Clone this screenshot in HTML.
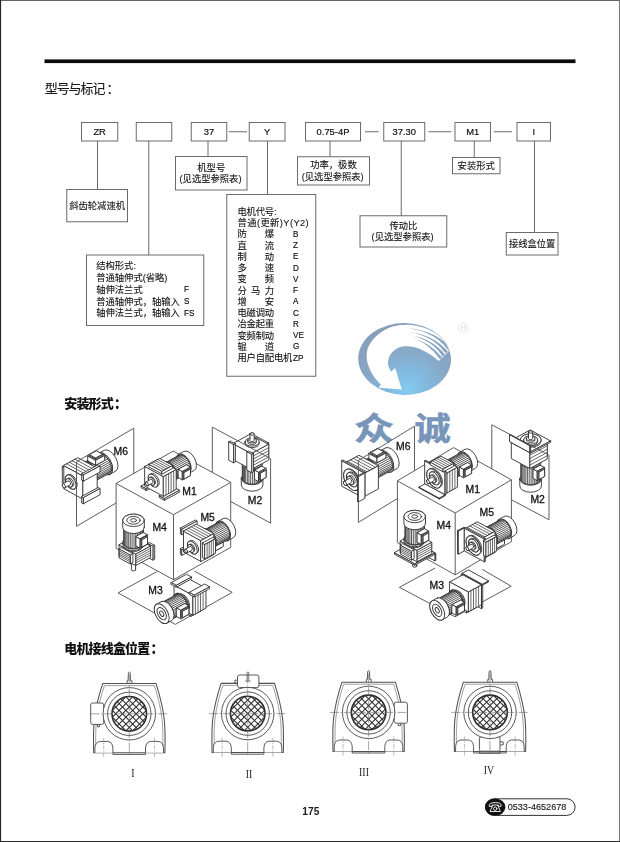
<!DOCTYPE html>
<html lang="zh-CN">
<head>
<meta charset="utf-8">
<title>型号与标记 - 175</title>
<style>
html,body{margin:0;padding:0;background:#fff;}
body{width:620px;height:842px;position:relative;overflow:hidden;font-family:"Liberation Sans",sans-serif;}
#art{position:absolute;left:0;top:0;width:620px;height:842px;display:block;}
#txt{position:absolute;left:0;top:0;width:620px;height:842px;will-change:transform;}
.l{position:absolute;white-space:nowrap;display:block;}
.t{position:absolute;white-space:nowrap;display:block;color:#111;-webkit-text-stroke:0.1px #111;font-family:"Liberation Sans","Noto Sans CJK SC",sans-serif;}
.h1{color:#1a1a1a;-webkit-text-stroke:0.15px #1a1a1a;letter-spacing:-1.1px;}
.h2{color:#111;font-weight:900;-webkit-text-stroke:0;letter-spacing:-0.84px;}
</style>
</head>
<body>
<svg id="art" width="620" height="842" viewBox="0 0 620 842">
<defs>
<radialGradient id="lg" gradientUnits="userSpaceOnUse" cx="408" cy="388" r="62" fx="408" fy="390">
<stop offset="0" stop-color="#84caf1"/><stop offset="0.3" stop-color="#82badf"/><stop offset="0.62" stop-color="#88a9c8"/><stop offset="1" stop-color="#879fbc"/>
</radialGradient>
<clipPath id="lgc"><ellipse cx="404.6" cy="359.0" rx="46.0" ry="35.5" transform="rotate(1.5 404.6 359.0)"/></clipPath>
<clipPath id="xh"><circle r="16.9"/></clipPath>
</defs>
<rect x="0" y="0" width="620" height="1" fill="#666"/>
<rect x="0" y="0" width="1.1" height="842" fill="#262626"/>
<rect x="619" y="0" width="1" height="842" fill="#777"/>
<rect x="0" y="841" width="620" height="1" fill="#2a2a2a"/>
<rect x="44.5" y="59.4" width="531" height="3.7" fill="#0a0a0a"/>
<rect x="81.5" y="122.5" width="36.25" height="18.50" fill="none" stroke="#6a6a6a" stroke-width="1"/>
<rect x="136.25" y="122.5" width="35.50" height="18.50" fill="none" stroke="#6a6a6a" stroke-width="1"/>
<rect x="191.25" y="122.5" width="35.50" height="18.50" fill="none" stroke="#6a6a6a" stroke-width="1"/>
<rect x="249.25" y="122.5" width="35.75" height="18.50" fill="none" stroke="#6a6a6a" stroke-width="1"/>
<rect x="305.5" y="122.5" width="55.00" height="18.50" fill="none" stroke="#6a6a6a" stroke-width="1"/>
<rect x="383.75" y="122.5" width="41.00" height="18.50" fill="none" stroke="#6a6a6a" stroke-width="1"/>
<rect x="455.0" y="122.5" width="35.50" height="18.50" fill="none" stroke="#6a6a6a" stroke-width="1"/>
<rect x="517.0" y="122.5" width="33.50" height="18.50" fill="none" stroke="#6a6a6a" stroke-width="1"/>
<line x1="228.75" y1="131.75" x2="247" y2="131.75" stroke="#6a6a6a" stroke-width="1"/>
<line x1="365" y1="131.75" x2="378.75" y2="131.75" stroke="#6a6a6a" stroke-width="1"/>
<line x1="428.5" y1="131.75" x2="451.25" y2="131.75" stroke="#6a6a6a" stroke-width="1"/>
<line x1="493.75" y1="131.75" x2="512" y2="131.75" stroke="#6a6a6a" stroke-width="1"/>
<line x1="97.5" y1="141.0" x2="97.5" y2="189.5" stroke="#6a6a6a" stroke-width="1"/>
<line x1="148.75" y1="141.0" x2="148.75" y2="255" stroke="#6a6a6a" stroke-width="1"/>
<line x1="208" y1="141.0" x2="208" y2="156.5" stroke="#6a6a6a" stroke-width="1"/>
<line x1="267.5" y1="141.0" x2="267.5" y2="194.5" stroke="#6a6a6a" stroke-width="1"/>
<line x1="330" y1="141.0" x2="330" y2="156.5" stroke="#6a6a6a" stroke-width="1"/>
<line x1="401.25" y1="141.0" x2="401.25" y2="215.75" stroke="#6a6a6a" stroke-width="1"/>
<line x1="474.25" y1="141.0" x2="474.25" y2="157.5" stroke="#6a6a6a" stroke-width="1"/>
<line x1="534.5" y1="141.0" x2="534.5" y2="232.5" stroke="#6a6a6a" stroke-width="1"/>
<rect x="66.75" y="189.5" width="60.75" height="32.25" fill="none" stroke="#6a6a6a" stroke-width="1"/>
<rect x="175.5" y="156.5" width="71.50" height="33.50" fill="none" stroke="#6a6a6a" stroke-width="1"/>
<rect x="297.5" y="156.75" width="72.00" height="28.25" fill="none" stroke="#6a6a6a" stroke-width="1"/>
<rect x="360" y="215.75" width="86.75" height="31.25" fill="none" stroke="#6a6a6a" stroke-width="1"/>
<rect x="452.5" y="157.5" width="47.50" height="16.25" fill="none" stroke="#6a6a6a" stroke-width="1"/>
<rect x="506.25" y="232.5" width="51.75" height="22.50" fill="none" stroke="#6a6a6a" stroke-width="1"/>
<rect x="86.5" y="255" width="117.25" height="70.50" fill="none" stroke="#6a6a6a" stroke-width="1"/>
<rect x="226.75" y="194.5" width="89.00" height="181.75" fill="none" stroke="#6a6a6a" stroke-width="1"/>
<rect x="485.5" y="798.8" width="89.6" height="16.6" rx="8.3" fill="#fff" stroke="#333" stroke-width="1"/>
<ellipse cx="495.2" cy="807.1" rx="10.2" ry="8.6" fill="#111"/>
<g fill="none" stroke="#fff" stroke-width="0.9" stroke-linecap="round" stroke-linejoin="round"><path d="M489.2 805.2 q0.3 -2.6 6 -2.6 q5.7 0 6 2.6 l-0.2 1.1 h-2.6 l-0.3 -1.3 h-5.8 l-0.3 1.3 h-2.6 z"/><path d="M492.6 805.6 l-2.6 5.9 h10.4 l-2.6 -5.9"/><circle cx="495.2" cy="808.7" r="1.7"/></g>
<ellipse cx="404.6" cy="359.0" rx="46.4" ry="35.9" transform="rotate(1.5 404.6 359.0)" fill="url(#lg)"/><g clip-path="url(#lgc)"><path d="M401.9 389.5 L378.7 387.8 L381 384.4 C375 379.5 369.5 371 367.3 362 C365.6 353 367.5 346.5 371.1 342.2 C374.5 337 380 332 388 328.2 C396 325 404 324.4 412 325.0 C428 326.6 443 335 451.5 348.6 L438.7 361.0 C434.5 357.0 428 352.4 419.5 348.7 C413 346 405 345.4 399 347.6 C393 350.3 389 355 388 361.5 C387.8 364 388.3 366 389.2 368 L391.1 371.7 L395.1 368.0 C396.4 371.5 398 377 399.6 382.7 Z" fill="#fff"/><path d="M408.2 328.3 Q436.2 330.6 450.7 348.8 L448.5 350.8 Q436.0 332.1 408.2 328.3 Z" fill="url(#lg)"/><path d="M409.4 332.0 Q434.0 335.0 447.9 351.6 L445.7 353.6 Q433.8 336.4 409.4 332.0 Z" fill="url(#lg)"/><path d="M411.8 335.6 Q431.4 338.6 445.0 354.4 L442.8 356.4 Q431.3 340.0 411.8 335.6 Z" fill="url(#lg)"/><path d="M414.2 339.0 Q428.9 341.9 442.1 357.2 L439.9 359.2 Q428.7 343.3 414.2 339.0 Z" fill="url(#lg)"/></g><circle cx="463.3" cy="327.8" r="4.8" fill="none" stroke="#dedede" stroke-width="0.8"/>
<text transform="translate(354 440.4) scale(1.25 1)" font-family="'Liberation Sans','Noto Sans CJK SC',sans-serif" font-size="32" font-weight="bold" fill="#7795b8" stroke="#7795b8" stroke-width="0.5">众</text>
<text transform="translate(414.6 440.4) scale(1.13 1)" font-family="'Liberation Sans','Noto Sans CJK SC',sans-serif" font-size="32" font-weight="bold" fill="#7795b8" stroke="#7795b8" stroke-width="0.5">诚</text>
<g transform="translate(129.3 713.8)" fill="none" stroke="#505050" stroke-width="0.95" stroke-linejoin="round"><path d="M-2.2 -30.2 V-33 H-1.2 L-0.9 -41 Q0 -42.4 0.9 -41 L1.2 -33 H2.6 V-30.2" fill="#fff"/><path d="M-26.6 -30.2 H26.8 C30 -20 33.4 -8 35 6 C35.8 14 36 24 35.6 39 H-35.6 C-36 24 -35.8 14 -35 6 C-33.4 -8 -30 -20 -26.6 -30.2 Z" fill="#fff" stroke-width="1.05"/><path d="M-24.8 -28.2 H25 C28 -19 31.3 -7 32.8 6 C33.6 14 33.8 24 33.4 39 M-33.4 39 C-33.8 24 -33.6 14 -32.8 6 C-31.3 -7 -28 -19 -24.8 -28.2" stroke-width="0.7" stroke="#777"/><path d="M-34.4 39 V34 Q-34 28 -29 27.6 H-21.5 Q-17 28 -16.4 34 V39" fill="#fff"/><path d="M34.2 39 V34 Q33.8 28 28.8 27.6 H21.3 Q16.8 28 16.2 34 V39" fill="#fff"/><path d="M-16.4 39 V40.6 H16.2 V39" /><path d="M-32 10.6 v2.4 h2.2 v-2.4"/><rect x="-38.6" y="-10.8" width="13" height="21.4" rx="2" fill="#fff"/><circle r="26.2" fill="#fff"/><circle r="21.7"/><circle r="17.3" stroke="#2e2e2e" stroke-width="1.6" fill="#fff"/><g clip-path="url(#xh)" stroke="#2e2e2e" stroke-width="1.05"><path d="M-53.94 -20 L-13.94 20 M-13.94 -20 L-53.94 20"/><path d="M-47.15 -20 L-7.15 20 M-7.15 -20 L-47.15 20"/><path d="M-40.36 -20 L-0.36 20 M-0.36 -20 L-40.36 20"/><path d="M-33.58 -20 L6.42 20 M6.42 -20 L-33.58 20"/><path d="M-26.79 -20 L13.21 20 M13.21 -20 L-26.79 20"/><path d="M-20.00 -20 L20.00 20 M20.00 -20 L-20.00 20"/><path d="M-13.21 -20 L26.79 20 M26.79 -20 L-13.21 20"/><path d="M-6.42 -20 L33.58 20 M33.58 -20 L-6.42 20"/><path d="M0.36 -20 L40.36 20 M40.36 -20 L0.36 20"/><path d="M7.15 -20 L47.15 20 M47.15 -20 L7.15 20"/><path d="M13.94 -20 L53.94 20 M53.94 -20 L13.94 20"/></g><path d="M0 -38.7 V41.7 M-38.7 0 H37.6" stroke="#666" stroke-width="0.6" stroke-dasharray="9 1.5 1.5 1.5"/><path d="M-25.6 24 V43.5 M25.2 24 V43.5" stroke="#777" stroke-width="0.5" stroke-dasharray="4 1.2 1.2 1.2"/></g>
<g transform="translate(247.7 713.6)" fill="none" stroke="#505050" stroke-width="0.95" stroke-linejoin="round"><path d="M-26.6 -30.2 H26.8 C30 -20 33.4 -8 35 6 C35.8 14 36 24 35.6 39 H-35.6 C-36 24 -35.8 14 -35 6 C-33.4 -8 -30 -20 -26.6 -30.2 Z" fill="#fff" stroke-width="1.05"/><path d="M-24.8 -28.2 H25 C28 -19 31.3 -7 32.8 6 C33.6 14 33.8 24 33.4 39 M-33.4 39 C-33.8 24 -33.6 14 -32.8 6 C-31.3 -7 -28 -19 -24.8 -28.2" stroke-width="0.7" stroke="#777"/><path d="M-34.4 39 V34 Q-34 28 -29 27.6 H-21.5 Q-17 28 -16.4 34 V39" fill="#fff"/><path d="M34.2 39 V34 Q33.8 28 28.8 27.6 H21.3 Q16.8 28 16.2 34 V39" fill="#fff"/><path d="M-16.4 39 V40.6 H16.2 V39" /><path d="M-10.2 -33.4 h-2.6 v2.8 h2.6"/><rect x="-10.2" y="-38.6" width="21.4" height="12.6" rx="2" fill="#fff"/><path d="M-0.8 -32.5 L-0.5 -41.5 H0.9 L1.2 -32.5 M-2.6 -32.5 H3" stroke-width="0.7"/><circle r="26.2" fill="#fff"/><circle r="21.7"/><circle r="17.3" stroke="#2e2e2e" stroke-width="1.6" fill="#fff"/><g clip-path="url(#xh)" stroke="#2e2e2e" stroke-width="1.05"><path d="M-53.94 -20 L-13.94 20 M-13.94 -20 L-53.94 20"/><path d="M-47.15 -20 L-7.15 20 M-7.15 -20 L-47.15 20"/><path d="M-40.36 -20 L-0.36 20 M-0.36 -20 L-40.36 20"/><path d="M-33.58 -20 L6.42 20 M6.42 -20 L-33.58 20"/><path d="M-26.79 -20 L13.21 20 M13.21 -20 L-26.79 20"/><path d="M-20.00 -20 L20.00 20 M20.00 -20 L-20.00 20"/><path d="M-13.21 -20 L26.79 20 M26.79 -20 L-13.21 20"/><path d="M-6.42 -20 L33.58 20 M33.58 -20 L-6.42 20"/><path d="M0.36 -20 L40.36 20 M40.36 -20 L0.36 20"/><path d="M7.15 -20 L47.15 20 M47.15 -20 L7.15 20"/><path d="M13.94 -20 L53.94 20 M53.94 -20 L13.94 20"/></g><path d="M0 -38.7 V41.7 M-38.7 0 H37.6" stroke="#666" stroke-width="0.6" stroke-dasharray="9 1.5 1.5 1.5"/><path d="M-25.6 24 V43.5 M25.2 24 V43.5" stroke="#777" stroke-width="0.5" stroke-dasharray="4 1.2 1.2 1.2"/></g>
<g transform="translate(368.6 712.4)" fill="none" stroke="#505050" stroke-width="0.95" stroke-linejoin="round"><path d="M-2.2 -30.2 V-33 H-1.2 L-0.9 -41 Q0 -42.4 0.9 -41 L1.2 -33 H2.6 V-30.2" fill="#fff"/><path d="M-26.6 -30.2 H26.8 C30 -20 33.4 -8 35 6 C35.8 14 36 24 35.6 39 H-35.6 C-36 24 -35.8 14 -35 6 C-33.4 -8 -30 -20 -26.6 -30.2 Z" fill="#fff" stroke-width="1.05"/><path d="M-24.8 -28.2 H25 C28 -19 31.3 -7 32.8 6 C33.6 14 33.8 24 33.4 39 M-33.4 39 C-33.8 24 -33.6 14 -32.8 6 C-31.3 -7 -28 -19 -24.8 -28.2" stroke-width="0.7" stroke="#777"/><path d="M-34.4 39 V34 Q-34 28 -29 27.6 H-21.5 Q-17 28 -16.4 34 V39" fill="#fff"/><path d="M34.2 39 V34 Q33.8 28 28.8 27.6 H21.3 Q16.8 28 16.2 34 V39" fill="#fff"/><path d="M-16.4 39 V40.6 H16.2 V39" /><path d="M32 10.8 v2.4 h-2.4 v-2.4"/><rect x="25.6" y="-10.2" width="13.2" height="21" rx="2" fill="#fff"/><circle r="26.2" fill="#fff"/><circle r="21.7"/><circle r="17.3" stroke="#2e2e2e" stroke-width="1.6" fill="#fff"/><g clip-path="url(#xh)" stroke="#2e2e2e" stroke-width="1.05"><path d="M-53.94 -20 L-13.94 20 M-13.94 -20 L-53.94 20"/><path d="M-47.15 -20 L-7.15 20 M-7.15 -20 L-47.15 20"/><path d="M-40.36 -20 L-0.36 20 M-0.36 -20 L-40.36 20"/><path d="M-33.58 -20 L6.42 20 M6.42 -20 L-33.58 20"/><path d="M-26.79 -20 L13.21 20 M13.21 -20 L-26.79 20"/><path d="M-20.00 -20 L20.00 20 M20.00 -20 L-20.00 20"/><path d="M-13.21 -20 L26.79 20 M26.79 -20 L-13.21 20"/><path d="M-6.42 -20 L33.58 20 M33.58 -20 L-6.42 20"/><path d="M0.36 -20 L40.36 20 M40.36 -20 L0.36 20"/><path d="M7.15 -20 L47.15 20 M47.15 -20 L7.15 20"/><path d="M13.94 -20 L53.94 20 M53.94 -20 L13.94 20"/></g><path d="M0 -38.7 V41.7 M-38.7 0 H37.6" stroke="#666" stroke-width="0.6" stroke-dasharray="9 1.5 1.5 1.5"/><path d="M-25.6 24 V43.5 M25.2 24 V43.5" stroke="#777" stroke-width="0.5" stroke-dasharray="4 1.2 1.2 1.2"/></g>
<g transform="translate(490.0 712.4)" fill="none" stroke="#505050" stroke-width="0.95" stroke-linejoin="round"><path d="M-2.2 -30.2 V-33 H-1.2 L-0.9 -41 Q0 -42.4 0.9 -41 L1.2 -33 H2.6 V-30.2" fill="#fff"/><path d="M-26.6 -30.2 H26.8 C30 -20 33.4 -8 35 6 C35.8 14 36 24 35.6 39 H-35.6 C-36 24 -35.8 14 -35 6 C-33.4 -8 -30 -20 -26.6 -30.2 Z" fill="#fff" stroke-width="1.05"/><path d="M-24.8 -28.2 H25 C28 -19 31.3 -7 32.8 6 C33.6 14 33.8 24 33.4 39 M-33.4 39 C-33.8 24 -33.6 14 -32.8 6 C-31.3 -7 -28 -19 -24.8 -28.2" stroke-width="0.7" stroke="#777"/><path d="M-34.4 39 V34 Q-34 28 -29 27.6 H-21.5 Q-17 28 -16.4 34 V39" fill="#fff"/><path d="M34.2 39 V34 Q33.8 28 28.8 27.6 H21.3 Q16.8 28 16.2 34 V39" fill="#fff"/><path d="M-16.4 39 V40.6 H16.2 V39" /><rect x="-10.6" y="24.4" width="20.6" height="14.4" rx="1.5" fill="#fff"/><path d="M10 29.5 h3.2 v3 h-3.2"/><path d="M-10.6 38.8 v2 h20.6 v-2"/><circle r="26.2" fill="#fff"/><circle r="21.7"/><circle r="17.3" stroke="#2e2e2e" stroke-width="1.6" fill="#fff"/><g clip-path="url(#xh)" stroke="#2e2e2e" stroke-width="1.05"><path d="M-53.94 -20 L-13.94 20 M-13.94 -20 L-53.94 20"/><path d="M-47.15 -20 L-7.15 20 M-7.15 -20 L-47.15 20"/><path d="M-40.36 -20 L-0.36 20 M-0.36 -20 L-40.36 20"/><path d="M-33.58 -20 L6.42 20 M6.42 -20 L-33.58 20"/><path d="M-26.79 -20 L13.21 20 M13.21 -20 L-26.79 20"/><path d="M-20.00 -20 L20.00 20 M20.00 -20 L-20.00 20"/><path d="M-13.21 -20 L26.79 20 M26.79 -20 L-13.21 20"/><path d="M-6.42 -20 L33.58 20 M33.58 -20 L-6.42 20"/><path d="M0.36 -20 L40.36 20 M40.36 -20 L0.36 20"/><path d="M7.15 -20 L47.15 20 M47.15 -20 L7.15 20"/><path d="M13.94 -20 L53.94 20 M53.94 -20 L13.94 20"/></g><path d="M0 -38.7 V41.7 M-38.7 0 H37.6" stroke="#666" stroke-width="0.6" stroke-dasharray="9 1.5 1.5 1.5"/><path d="M-25.6 24 V43.5 M25.2 24 V43.5" stroke="#777" stroke-width="0.5" stroke-dasharray="4 1.2 1.2 1.2"/></g>
<g fill="#fff" stroke="#303030" stroke-width="0.9" stroke-linejoin="round" stroke-linecap="round"><path d="M110.1 474.2 L115.9 471 A11.9 6.8 61.5 0 0 104.5 450.2 L98.7 453.3 A11.9 6.8 61.5 0 0 110.1 474.2Z" fill="#fff"/><ellipse cx="104.4" cy="463.8" rx="11.9" ry="6.8" transform="rotate(61.5 104.4 463.8)" fill="#fff"/><ellipse cx="104.4" cy="463.8" rx="7.4" ry="4.2" transform="rotate(61.5 104.4 463.8)" fill="none"/><ellipse cx="104.4" cy="463.8" rx="3.3" ry="1.9" transform="rotate(61.5 104.4 463.8)" fill="none"/><path d="M94.6 481.4 L109.5 473.2 A10.8 6.2 61.5 0 0 99.3 454.3 L84.3 462.4 A10.8 6.2 61.5 0 0 94.6 481.4Z" fill="#fff"/><path d="M89.4 463.1 L104.4 455 M88 462.5 L103 454.3 M86.6 462.2 L101.6 454 M85.3 462.2 L100.3 454.1 M96.3 479.6 L111.3 471.4 M96.9 478.3 L111.8 470.2 M97.1 476.9 L112.1 468.7 M97.1 475.3 L112.1 467.1 M96.9 473.5 L111.8 465.4 M96.3 471.7 L111.3 463.6 M95.6 469.9 L110.6 461.8 M94.6 468.2 L109.6 460.1 M93.5 466.6 L108.5 458.5 M92.2 465.2 L107.2 457.1 M90.8 464 L105.8 455.9" fill="none" stroke-width="0.81"/><ellipse cx="89.4" cy="471.9" rx="10.8" ry="6.2" transform="rotate(61.5 89.4 471.9)" fill="#fff"/><path d="M93.6 483.1 L95.1 482.3 A11.9 6.8 61.5 0 0 83.8 461.5 L82.3 462.3 A11.9 6.8 61.5 0 0 93.6 483.1Z" fill="#fff"/><ellipse cx="88" cy="472.7" rx="11.9" ry="6.8" transform="rotate(61.5 88 472.7)" fill="#fff"/><path d="M90.8 482.5 L92.7 481.4 A10 5.8 61.5 0 0 83.2 463.9 L81.3 465 A10 5.8 61.5 0 0 90.8 482.5Z" fill="#fff"/><ellipse cx="86" cy="473.7" rx="10" ry="5.8" transform="rotate(61.5 86 473.7)" fill="#fff"/><path d="M65.3 484.1 L65.3 468.1 L62.3 466.5 L62.3 482.5Z" fill="#fff"/><path d="M65.3 468.1 L76.9 461.8 L74 460.2 L62.3 466.5Z" fill="#fff"/><path d="M65.3 484.1 L76.9 477.8 L76.9 461.8 L65.3 468.1Z" fill="#fff"/><path d="M96 465.1 L96 460.1 L87.7 455.6 L87.7 460.6Z" fill="#fff"/><path d="M96 460.1 L104.7 455.4 L96.4 450.8 L87.7 455.6Z" fill="#fff"/><path d="M96 465.1 L104.7 460.4 L104.7 455.4 L96 460.1Z" fill="#fff"/><path d="M83.1 498.9 L83.1 475.8 L63.8 465.3 L63.8 488.4Z" fill="#fff"/><path d="M83.1 475.8 L97.2 468.2 L77.8 457.7 L63.8 465.3Z" fill="#fff"/><path d="M85.9 474.3 L66.6 463.8 M88.7 472.8 L69.4 462.3 M91.5 471.3 L72.2 460.8 M94.3 469.7 L75 459.2" fill="none" stroke-width="0.72"/><path d="M83.1 498.9 L97.2 491.3 L97.2 468.2 L83.1 475.8Z" fill="#fff"/><path d="M96 459 L96 457.9 L89.6 454.5 L89.6 455.6Z" fill="#fff"/><path d="M96 457.9 L102.8 454.3 L96.4 450.8 L89.6 454.5Z" fill="#fff"/><path d="M96 459 L102.8 455.4 L102.8 454.3 L96 457.9Z" fill="#fff"/><path d="M83.6 503.6 L83.6 497.5 L81.7 496.4 L81.7 502.6Z" fill="#fff"/><path d="M83.6 497.5 L100.1 488.5 L98.1 487.5 L81.7 496.4Z" fill="#fff"/><path d="M83.6 503.6 L100.1 494.7 L100.1 488.5 L83.6 497.5Z" fill="#fff"/><path d="M74.3 489 L75.7 488.2 A7.8 4.5 61.5 0 0 68.3 474.5 L66.8 475.3 A7.8 4.5 61.5 0 0 74.3 489Z" fill="#fff"/><ellipse cx="70.6" cy="482.1" rx="7.8" ry="4.5" transform="rotate(61.5 70.6 482.1)" fill="#fff"/><path d="M71.3 486.9 L72.8 486.2 A4.6 2.6 61.5 0 0 68.4 478.1 L66.9 478.9 A4.6 2.6 61.5 0 0 71.3 486.9Z" fill="#fff"/><ellipse cx="69.1" cy="482.9" rx="4.6" ry="2.6" transform="rotate(61.5 69.1 482.9)" fill="#fff"/><path d="M64.9 487.8 L70.2 484.9 A2.3 1.3 61.5 0 0 68 480.9 L62.7 483.8 A2.3 1.3 61.5 0 0 64.9 487.8Z" fill="#fff"/><ellipse cx="63.8" cy="485.8" rx="2.3" ry="1.3" transform="rotate(61.5 63.8 485.8)" fill="#fff"/><path d="M83.6 481 L83.6 474.8 L81.7 473.8 L81.7 479.9Z" fill="#fff"/><path d="M83.6 474.8 L100.1 465.9 L98.1 464.8 L81.7 473.8Z" fill="#fff"/><path d="M83.6 481 L100.1 472 L100.1 465.9 L83.6 474.8Z" fill="#fff"/></g><g fill="#fff" stroke="#303030" stroke-width="0.9" stroke-linejoin="round" stroke-linecap="round"><path d="M241.3 478.5 L241.3 485 A10.8 6.2 180 0 0 262.9 485 L262.9 478.5 A10.8 6.2 180 0 0 241.3 478.5Z" fill="#fff"/><ellipse cx="252.1" cy="478.5" rx="10.8" ry="6.2" transform="rotate(180 252.1 478.5)" fill="#fff"/><ellipse cx="252.1" cy="478.5" rx="6.7" ry="3.9" transform="rotate(180 252.1 478.5)" fill="none"/><ellipse cx="252.1" cy="478.5" rx="3" ry="1.7" transform="rotate(180 252.1 478.5)" fill="none"/><path d="M242.3 462.5 L242.3 478.5 A9.8 5.7 180 0 0 261.9 478.5 L261.9 462.5 A9.8 5.7 180 0 0 242.3 462.5Z" fill="#fff"/><path d="M259.1 466.3 L259.1 482.3 M260.3 465.6 L260.3 481.6 M261.2 464.7 L261.2 480.7 M261.8 463.7 L261.8 479.7 M242.7 464.2 L242.7 480.2 M243.4 465.1 L243.4 481.1 M244.5 465.9 L244.5 481.9 M245.7 466.7 L245.7 482.7 M247.3 467.2 L247.3 483.2 M248.9 467.6 L248.9 483.6 M250.7 467.8 L250.7 483.8 M252.6 467.9 L252.6 483.9 M254.4 467.8 L254.4 483.8 M256.1 467.4 L256.1 483.4 M257.7 467 L257.7 483" fill="none" stroke-width="0.81"/><ellipse cx="252.1" cy="462.5" rx="9.8" ry="5.7" transform="rotate(180 252.1 462.5)" fill="#fff"/><path d="M241.3 461 L241.3 462.5 A10.8 6.2 180 0 0 262.9 462.5 L262.9 461 A10.8 6.2 180 0 0 241.3 461Z" fill="#fff"/><ellipse cx="252.1" cy="461" rx="10.8" ry="6.2" transform="rotate(180 252.1 461)" fill="#fff"/><path d="M243 459 L243 461 A9.1 5.2 180 0 0 261.2 461 L261.2 459 A9.1 5.2 180 0 0 243 459Z" fill="#fff"/><ellipse cx="252.1" cy="459" rx="9.1" ry="5.2" transform="rotate(180 252.1 459)" fill="#fff"/><path d="M253.2 437.5 L266 444.4 L268.6 443 L255.8 436Z" fill="#fff"/><path d="M266 444.4 L266 457.4 L268.6 456 L268.6 443Z" fill="#fff"/><path d="M253.2 437.5 L253.2 450.5 L266 457.4 L266 444.4Z" fill="#fff"/><path d="M254.5 470.4 L258.5 472.6 L266.1 468.5 L262 466.3Z" fill="#fff"/><path d="M258.5 472.6 L258.5 481.6 L266.1 477.5 L266.1 468.5Z" fill="#fff"/><path d="M254.5 470.4 L254.5 479.4 L258.5 481.6 L258.5 472.6Z" fill="#fff"/><path d="M232.8 444 L251.2 454 L268.8 444.5 L250.3 434.4Z" fill="#fff"/><path d="M251.2 454 L251.2 469.5 L268.8 460 L268.8 444.5Z" fill="#fff"/><path d="M251.2 457.1 L268.8 447.6 M251.2 460.2 L268.8 450.7 M251.2 463.3 L268.8 453.8 M251.2 466.4 L268.8 456.9" fill="none" stroke-width="0.72"/><path d="M232.8 444 L232.8 459.5 L251.2 469.5 L251.2 454Z" fill="#fff"/><path d="M259.4 473.1 L260.3 473.6 L266.1 470.4 L265.2 470Z" fill="#fff"/><path d="M260.3 473.6 L260.3 480.6 L266.1 477.4 L266.1 470.4Z" fill="#fff"/><path d="M259.4 473.1 L259.4 480.1 L260.3 480.6 L260.3 473.6Z" fill="#fff"/><path d="M228.7 442.2 L233.6 444.9 L235.4 443.9 L230.5 441.2Z" fill="#fff"/><path d="M233.6 444.9 L233.6 462.9 L235.4 461.9 L235.4 443.9Z" fill="#fff"/><path d="M228.7 442.2 L228.7 460.2 L233.6 462.9 L233.6 444.9Z" fill="#fff"/><path d="M245 442 L245 443.5 A7.1 4.1 180 0 0 259.2 443.5 L259.2 442 A7.1 4.1 180 0 0 245 442Z" fill="#fff"/><ellipse cx="252.1" cy="442" rx="7.1" ry="4.1" transform="rotate(180 252.1 442)" fill="#fff"/><path d="M247.9 440.5 L247.9 442 A4.2 2.4 180 0 0 256.3 442 L256.3 440.5 A4.2 2.4 180 0 0 247.9 440.5Z" fill="#fff"/><ellipse cx="252.1" cy="440.5" rx="4.2" ry="2.4" transform="rotate(180 252.1 440.5)" fill="#fff"/><path d="M250 434 L250 440.5 A2.1 1.2 180 0 0 254.2 440.5 L254.2 434 A2.1 1.2 180 0 0 250 434Z" fill="#fff"/><ellipse cx="252.1" cy="434" rx="2.1" ry="1.2" transform="rotate(180 252.1 434)" fill="#fff"/><path d="M246.8 452 L251.7 454.7 L253.5 453.7 L248.6 451.1Z" fill="#fff"/><path d="M251.7 454.7 L251.7 472.7 L253.5 471.7 L253.5 453.7Z" fill="#fff"/><path d="M246.8 452 L246.8 470 L251.7 472.7 L251.7 454.7Z" fill="#fff"/></g><path d="M76.5 461.8 L133.8 428.2 L133.8 492.6 L76.5 526.3Z" fill="none" stroke="#555" stroke-width="0.95" stroke-linejoin="round"/><path d="M212.3 427.1 L270.6 458.5 L270.6 523.1 L212.3 491.6Z" fill="none" stroke="#555" stroke-width="0.95" stroke-linejoin="round"/><path d="M116.1 483.4 L173.3 451.1 L230.7 482.4 L230.7 547.4 L173.5 579.7 L116.1 548.4Z" fill="#fff" stroke="#555" stroke-width="0.95" stroke-linejoin="round"/><path d="M116.1 483.4 L173.5 514.7 L230.7 482.4" fill="none" stroke="#555" stroke-width="0.95" stroke-linejoin="round"/><path d="M173.5 514.7 L173.5 579.7" fill="none" stroke="#555" stroke-width="0.95" stroke-linejoin="round"/><path d="M156.9 571.6 L118.0 592.9 L175.3 624.4 L232.2 592.4 L194.4 571.0" fill="none" stroke="#555" stroke-width="0.95" stroke-linejoin="round"/><g fill="#fff" stroke="#303030" stroke-width="0.9" stroke-linejoin="round" stroke-linecap="round"><path d="M188.9 473.3 L194.1 470.5 A10.8 6.2 61.5 0 0 183.8 451.5 L178.6 454.4 A10.8 6.2 61.5 0 0 188.9 473.3Z" fill="#fff"/><ellipse cx="183.7" cy="463.9" rx="10.8" ry="6.2" transform="rotate(61.5 183.7 463.9)" fill="#fff"/><ellipse cx="183.7" cy="463.9" rx="6.7" ry="3.9" transform="rotate(61.5 183.7 463.9)" fill="none"/><ellipse cx="183.7" cy="463.9" rx="3" ry="1.7" transform="rotate(61.5 183.7 463.9)" fill="none"/><path d="M141.4 487.8 L146.4 490.5 L146.4 488.5 L141.4 485.8Z" fill="#fff"/><path d="M146.4 490.5 L161.3 482.4 L161.3 480.4 L146.4 488.5Z" fill="#fff"/><path d="M141.4 485.8 L156.4 477.7 L161.3 480.4 L146.4 488.5Z" fill="#fff"/><path d="M174.8 479.9 L188.4 472.5 A9.8 5.7 61.5 0 0 179 455.2 L165.4 462.6 A9.8 5.7 61.5 0 0 174.8 479.9Z" fill="#fff"/><path d="M177.1 475.1 L190.7 467.7 M177 473.5 L190.6 466.1 M176.6 471.9 L190.3 464.5 M176.1 470.3 L189.7 462.9 M175.3 468.7 L188.9 461.3 M174.3 467.2 L187.9 459.8 M173.2 465.8 L186.8 458.4 M172 464.6 L185.6 457.2 M170.7 463.6 L184.4 456.2 M169.4 462.9 L183.1 455.5 M168.2 462.5 L181.8 455.1 M167 462.4 L180.6 455 M176.1 478.7 L189.7 471.3 M176.6 477.7 L190.3 470.3 M177 476.5 L190.6 469.1" fill="none" stroke-width="0.81"/><ellipse cx="170.1" cy="471.3" rx="9.8" ry="5.7" transform="rotate(61.5 170.1 471.3)" fill="#fff"/><path d="M173.9 481.4 L175.2 480.7 A10.8 6.2 61.5 0 0 164.9 461.8 L163.6 462.5 A10.8 6.2 61.5 0 0 173.9 481.4Z" fill="#fff"/><ellipse cx="168.8" cy="472" rx="10.8" ry="6.2" transform="rotate(61.5 168.8 472)" fill="#fff"/><path d="M171.3 480.9 L173.1 479.9 A9.1 5.2 61.5 0 0 164.4 464 L162.7 465 A9.1 5.2 61.5 0 0 171.3 480.9Z" fill="#fff"/><ellipse cx="167" cy="472.9" rx="9.1" ry="5.2" transform="rotate(61.5 167 472.9)" fill="#fff"/><path d="M178.4 477.7 L182.5 479.9 L182.5 471.3 L178.4 469.1Z" fill="#fff"/><path d="M182.5 479.9 L190.4 475.6 L190.4 467 L182.5 471.3Z" fill="#fff"/><path d="M178.4 469.1 L186.3 464.8 L190.4 467 L182.5 471.3Z" fill="#fff"/><path d="M159.5 497.6 L164.5 500.3 L164.5 498.3 L159.5 495.6Z" fill="#fff"/><path d="M164.5 500.3 L179.4 492.2 L179.4 490.2 L164.5 498.3Z" fill="#fff"/><path d="M159.5 495.6 L174.5 487.5 L179.4 490.2 L164.5 498.3Z" fill="#fff"/><path d="M145 486.3 L163.5 496.4 L163.5 476.4 L145 466.3Z" fill="#fff"/><path d="M163.5 496.4 L176.2 489.4 L176.2 469.4 L163.5 476.4Z" fill="#fff"/><path d="M166 495 L166 475 M168.6 493.6 L168.6 473.6 M171.1 492.2 L171.1 472.2 M173.7 490.8 L173.7 470.8" fill="none" stroke-width="0.72"/><path d="M145 466.3 L157.8 459.4 L176.2 469.4 L163.5 476.4Z" fill="#fff"/><path d="M183.4 478.4 L184.2 478.9 L184.2 472.3 L183.4 471.8Z" fill="#fff"/><path d="M184.2 478.9 L190.4 475.6 L190.4 469 L184.2 472.3Z" fill="#fff"/><path d="M183.4 471.8 L189.5 468.5 L190.4 469 L184.2 472.3Z" fill="#fff"/><path d="M156.3 486.8 L157.7 486.1 A7.1 4.1 61.5 0 0 150.9 473.6 L149.6 474.3 A7.1 4.1 61.5 0 0 156.3 486.8Z" fill="#fff"/><ellipse cx="153" cy="480.6" rx="7.1" ry="4.1" transform="rotate(61.5 153 480.6)" fill="#fff"/><path d="M153.6 484.9 L154.9 484.2 A4.2 2.4 61.5 0 0 151 476.9 L149.6 477.6 A4.2 2.4 61.5 0 0 153.6 484.9Z" fill="#fff"/><ellipse cx="151.6" cy="481.3" rx="4.2" ry="2.4" transform="rotate(61.5 151.6 481.3)" fill="#fff"/><path d="M149.2 467.1 L162 474.1 L162 471.1 L149.2 464.1Z" fill="#fff"/><path d="M162 474.1 L172.5 468.4 L172.5 465.4 L162 471.1Z" fill="#fff"/><path d="M149.2 464.1 L159.7 458.4 L172.5 465.4 L162 471.1Z" fill="#fff"/><path d="M151.3 463 L164.1 470 M153.4 461.9 L166.2 468.8 M155.5 460.7 L168.3 467.7 M157.6 459.6 L170.4 466.5" fill="none" stroke-width="0.72"/><path d="M147.8 485.7 L152.6 483.1 A2.1 1.2 61.5 0 0 150.6 479.4 L145.8 482.1 A2.1 1.2 61.5 0 0 147.8 485.7Z" fill="#fff"/><ellipse cx="146.8" cy="483.9" rx="2.1" ry="1.2" transform="rotate(61.5 146.8 483.9)" fill="#fff"/></g><g fill="#fff" stroke="#303030" stroke-width="0.9" stroke-linejoin="round" stroke-linecap="round"><path d="M133.4 533.8 L138.3 536.5 L136.6 537.4 L131.7 534.8Z" fill="#fff"/><path d="M138.3 550 L138.3 536.5 L136.6 537.4 L136.6 550.9Z" fill="#fff"/><path d="M131.7 548.3 L131.7 534.8 L136.6 537.4 L136.6 550.9Z" fill="#fff"/><path d="M135.6 569.8 L135.6 560.3 A2.1 1.2 0 0 0 131.4 560.3 L131.4 569.8 A2.1 1.2 0 0 0 135.6 569.8Z" fill="#fff"/><ellipse cx="133.5" cy="560.3" rx="2.1" ry="1.2" transform="rotate(0 133.5 560.3)" fill="#fff"/><path d="M140.6 558.8 L140.6 557.3 A7.1 4.1 0 0 0 126.4 557.3 L126.4 558.8 A7.1 4.1 0 0 0 140.6 558.8Z" fill="#fff"/><ellipse cx="133.5" cy="557.3" rx="7.1" ry="4.1" transform="rotate(0 133.5 557.3)" fill="#fff"/><path d="M137.7 560.3 L137.7 558.8 A4.2 2.4 0 0 0 129.3 558.8 L129.3 560.3 A4.2 2.4 0 0 0 137.7 560.3Z" fill="#fff"/><ellipse cx="133.5" cy="558.8" rx="4.2" ry="2.4" transform="rotate(0 133.5 558.8)" fill="#fff"/><path d="M149.8 542.7 L154.7 545.3 L152.9 546.3 L148 543.6Z" fill="#fff"/><path d="M154.7 558.8 L154.7 545.3 L152.9 546.3 L152.9 559.8Z" fill="#fff"/><path d="M148 557.1 L148 543.6 L152.9 546.3 L152.9 559.8Z" fill="#fff"/><path d="M133.9 537 L150.6 546.1 L135.7 554.2 L119 545.1Z" fill="#fff"/><path d="M150.6 557.1 L150.6 546.1 L135.7 554.2 L135.7 565.2Z" fill="#fff"/><path d="M150.6 554.9 L135.7 563 M150.6 552.7 L135.7 560.8 M150.6 550.5 L135.7 558.6 M150.6 548.3 L135.7 556.4" fill="none" stroke-width="0.72"/><path d="M119 556.1 L119 545.1 L135.7 554.2 L135.7 565.2Z" fill="#fff"/><path d="M142.6 546.3 L142.6 544.3 A9.1 5.2 0 0 0 124.4 544.3 L124.4 546.3 A9.1 5.2 0 0 0 142.6 546.3Z" fill="#fff"/><ellipse cx="133.5" cy="544.3" rx="9.1" ry="5.2" transform="rotate(0 133.5 544.3)" fill="#fff"/><path d="M144.3 544.3 L144.3 542.8 A10.8 6.2 0 0 0 122.7 542.8 L122.7 544.3 A10.8 6.2 0 0 0 144.3 544.3Z" fill="#fff"/><ellipse cx="133.5" cy="542.8" rx="10.8" ry="6.2" transform="rotate(0 133.5 542.8)" fill="#fff"/><path d="M121.8 547.6 L132.9 553.6 L130.2 555.1 L119.2 549.1Z" fill="#fff"/><path d="M132.9 562.1 L132.9 553.6 L130.2 555.1 L130.2 563.6Z" fill="#fff"/><path d="M119.2 557.6 L119.2 549.1 L130.2 555.1 L130.2 563.6Z" fill="#fff"/><path d="M119.2 555.9 L130.2 561.9 M119.2 554.2 L130.2 560.2 M119.2 552.5 L130.2 558.5 M119.2 550.8 L130.2 556.8" fill="none" stroke-width="0.72"/><path d="M143.3 542.8 L143.3 527.3 A9.8 5.7 0 0 0 123.7 527.3 L123.7 542.8 A9.8 5.7 0 0 0 143.3 542.8Z" fill="#fff"/><path d="M140.5 546.6 L140.5 531.1 M139.1 547.3 L139.1 531.8 M137.5 547.7 L137.5 532.2 M135.8 548.1 L135.8 532.6 M134 548.2 L134 532.7 M132.1 548.1 L132.1 532.6 M130.3 547.9 L130.3 532.4 M128.7 547.5 L128.7 532 M127.1 547 L127.1 531.5 M125.9 546.2 L125.9 530.7 M124.8 545.4 L124.8 529.9 M124.1 544.5 L124.1 529 M143.2 544 L143.2 528.5 M142.6 545 L142.6 529.5 M141.7 545.9 L141.7 530.4" fill="none" stroke-width="0.81"/><ellipse cx="133.5" cy="527.3" rx="9.8" ry="5.7" transform="rotate(0 133.5 527.3)" fill="#fff"/><path d="M144.3 527.3 L144.3 520.3 A10.8 6.2 0 0 0 122.7 520.3 L122.7 527.3 A10.8 6.2 0 0 0 144.3 527.3Z" fill="#fff"/><ellipse cx="133.5" cy="520.3" rx="10.8" ry="6.2" transform="rotate(0 133.5 520.3)" fill="#fff"/><ellipse cx="133.5" cy="520.3" rx="6.7" ry="3.9" transform="rotate(0 133.5 520.3)" fill="none"/><ellipse cx="133.5" cy="520.3" rx="3" ry="1.7" transform="rotate(0 133.5 520.3)" fill="none"/><path d="M143.4 532.6 L147.5 534.8 L139.9 538.9 L135.9 536.7Z" fill="#fff"/><path d="M147.5 543.8 L147.5 534.8 L139.9 538.9 L139.9 547.9Z" fill="#fff"/><path d="M135.9 545.7 L135.9 536.7 L139.9 538.9 L139.9 547.9Z" fill="#fff"/><path d="M146.6 536.3 L147.5 536.7 L141.7 539.9 L140.8 539.4Z" fill="#fff"/><path d="M147.5 543.7 L147.5 536.7 L141.7 539.9 L141.7 546.9Z" fill="#fff"/><path d="M140.8 546.4 L140.8 539.4 L141.7 539.9 L141.7 546.9Z" fill="#fff"/></g><g fill="#fff" stroke="#303030" stroke-width="0.9" stroke-linejoin="round" stroke-linecap="round"><path d="M228.2 540.4 L233.4 537.6 A10.8 6.2 61.5 0 0 223.1 518.6 L217.9 521.5 A10.8 6.2 61.5 0 0 228.2 540.4Z" fill="#fff"/><ellipse cx="223" cy="531" rx="10.8" ry="6.2" transform="rotate(61.5 223 531)" fill="#fff"/><ellipse cx="223" cy="531" rx="6.7" ry="3.9" transform="rotate(61.5 223 531)" fill="none"/><ellipse cx="223" cy="531" rx="3" ry="1.7" transform="rotate(61.5 223 531)" fill="none"/><path d="M180.4 548.7 L180.4 554.3 L182.1 555.3 L182.1 549.7Z" fill="#fff"/><path d="M180.4 548.7 L195.3 540.6 L197.1 541.6 L182.1 549.7Z" fill="#fff"/><path d="M182.1 549.7 L197.1 541.6 L197.1 547.2 L182.1 555.3Z" fill="#fff"/><path d="M209.6 546.7 L209.6 547.7 L215.4 550.9 L215.4 549.9Z" fill="#fff"/><path d="M209.6 546.7 L215.7 543.4 L221.5 546.5 L215.4 549.9Z" fill="#fff"/><path d="M215.4 549.9 L221.5 546.5 L221.5 547.5 L215.4 550.9Z" fill="#fff"/><path d="M207.8 542.1 L207.8 546.7 L215.4 550.8 L215.4 546.2Z" fill="#fff"/><path d="M207.8 542.1 L215.7 537.8 L223.3 541.9 L215.4 546.2Z" fill="#fff"/><path d="M215.4 546.2 L223.3 541.9 L223.3 546.5 L215.4 550.8Z" fill="#fff"/><path d="M214.1 547 L227.7 539.6 A9.8 5.7 61.5 0 0 218.3 522.3 L204.7 529.7 A9.8 5.7 61.5 0 0 214.1 547Z" fill="#fff"/><path d="M215.7 545.3 L229.3 537.9 M216.2 544.2 L229.8 536.8 M216.4 542.9 L230 535.5 M216.4 541.4 L230 534 M216.2 539.8 L229.8 532.4 M215.7 538.2 L229.3 530.8 M215 536.6 L228.6 529.2 M214.1 535 L227.7 527.6 M213.1 533.6 L226.7 526.2 M211.9 532.3 L225.6 524.9 M210.7 531.2 L224.3 523.8 M209.4 530.4 L223 523 M208.1 529.8 L221.7 522.4 M206.8 529.5 L220.5 522.1 M205.7 529.5 L219.3 522.1" fill="none" stroke-width="0.81"/><ellipse cx="209.4" cy="538.4" rx="9.8" ry="5.7" transform="rotate(61.5 209.4 538.4)" fill="#fff"/><path d="M213.2 548.5 L214.5 547.8 A10.8 6.2 61.5 0 0 204.2 528.9 L202.9 529.6 A10.8 6.2 61.5 0 0 213.2 548.5Z" fill="#fff"/><ellipse cx="208.1" cy="539.1" rx="10.8" ry="6.2" transform="rotate(61.5 208.1 539.1)" fill="#fff"/><path d="M210.6 548 L212.4 547 A9.1 5.2 61.5 0 0 203.7 531.1 L202 532.1 A9.1 5.2 61.5 0 0 210.6 548Z" fill="#fff"/><ellipse cx="206.3" cy="540" rx="9.1" ry="5.2" transform="rotate(61.5 206.3 540)" fill="#fff"/><path d="M180.4 528.1 L180.4 533.7 L182.1 534.7 L182.1 529.1Z" fill="#fff"/><path d="M180.4 528.1 L195.3 520 L197.1 521 L182.1 529.1Z" fill="#fff"/><path d="M182.1 529.1 L197.1 521 L197.1 526.6 L182.1 534.7Z" fill="#fff"/><path d="M183.5 531 L183.5 552 L201 561.5 L201 540.5Z" fill="#fff"/><path d="M183.5 531 L196.2 524 L213.8 533.6 L201 540.5Z" fill="#fff"/><path d="M186 529.6 L203.6 539.1 M188.6 528.2 L206.1 537.7 M191.1 526.8 L208.7 536.3 M193.7 525.4 L211.2 535" fill="none" stroke-width="0.72"/><path d="M201 540.5 L213.8 533.6 L213.8 554.6 L201 561.5Z" fill="#fff"/><path d="M195.6 553.9 L197 553.2 A7.1 4.1 61.5 0 0 190.2 540.7 L188.9 541.4 A7.1 4.1 61.5 0 0 195.6 553.9Z" fill="#fff"/><ellipse cx="192.3" cy="547.7" rx="7.1" ry="4.1" transform="rotate(61.5 192.3 547.7)" fill="#fff"/><path d="M192.9 552 L194.2 551.3 A4.2 2.4 61.5 0 0 190.3 544 L188.9 544.7 A4.2 2.4 61.5 0 0 192.9 552Z" fill="#fff"/><ellipse cx="190.9" cy="548.4" rx="4.2" ry="2.4" transform="rotate(61.5 190.9 548.4)" fill="#fff"/><path d="M202.4 543 L202.4 557.6 L205 559 L205 544.4Z" fill="#fff"/><path d="M202.4 543 L212.9 537.3 L215.5 538.7 L205 544.4Z" fill="#fff"/><path d="M205 544.4 L215.5 538.7 L215.5 553.3 L205 559Z" fill="#fff"/><path d="M207.1 543.3 L207.1 557.9 M209.2 542.1 L209.2 556.7 M211.3 541 L211.3 555.6 M213.4 539.8 L213.4 554.4" fill="none" stroke-width="0.72"/><path d="M187.1 552.8 L191.9 550.2 A2.1 1.2 61.5 0 0 189.9 546.5 L185.1 549.2 A2.1 1.2 61.5 0 0 187.1 552.8Z" fill="#fff"/><ellipse cx="186.1" cy="551" rx="2.1" ry="1.2" transform="rotate(61.5 186.1 551)" fill="#fff"/></g><g fill="#fff" stroke="#303030" stroke-width="0.9" stroke-linejoin="round" stroke-linecap="round"><path d="M202.9 589 L198.1 591.6 A2.1 1.2 -118.5 0 0 200 595.3 L204.9 592.6 A2.1 1.2 -118.5 0 0 202.9 589Z" fill="#fff"/><ellipse cx="199" cy="593.4" rx="2.1" ry="1.2" transform="rotate(-118.5 199 593.4)" fill="#fff"/><path d="M194.3 587.9 L193 588.6 A7.1 4.1 -118.5 0 0 199.8 601.1 L201.1 600.4 A7.1 4.1 -118.5 0 0 194.3 587.9Z" fill="#fff"/><ellipse cx="196.4" cy="594.9" rx="7.1" ry="4.1" transform="rotate(-118.5 196.4 594.9)" fill="#fff"/><path d="M197.1 589.8 L195.7 590.5 A4.2 2.4 -118.5 0 0 199.7 597.8 L201 597.1 A4.2 2.4 -118.5 0 0 197.1 589.8Z" fill="#fff"/><ellipse cx="197.7" cy="594.1" rx="4.2" ry="2.4" transform="rotate(-118.5 197.7 594.1)" fill="#fff"/><path d="M178.1 606.3 L191 613.3 L191 616.3 L178.1 609.3Z" fill="#fff"/><path d="M201.5 607.6 L191 613.3 L191 616.3 L201.5 610.6Z" fill="#fff"/><path d="M188.7 600.6 L178.1 606.3 L191 613.3 L201.5 607.6Z" fill="#fff"/><path d="M174.4 585.3 L192.9 595.3 L192.9 615.3 L174.4 605.3Z" fill="#fff"/><path d="M205.6 588.4 L192.9 595.3 L192.9 615.3 L205.6 608.4Z" fill="#fff"/><path d="M203.1 589.7 L203.1 609.7 M200.5 591.1 L200.5 611.1 M198 592.5 L198 612.5 M195.4 593.9 L195.4 613.9" fill="none" stroke-width="0.72"/><path d="M187.2 578.3 L174.4 585.3 L192.9 595.3 L205.6 588.4Z" fill="#fff"/><path d="M171.3 582.5 L176.2 585.2 L176.2 587.2 L171.3 584.5Z" fill="#fff"/><path d="M191.1 577.1 L176.2 585.2 L176.2 587.2 L191.1 579.1Z" fill="#fff"/><path d="M186.2 574.4 L171.3 582.5 L176.2 585.2 L191.1 577.1Z" fill="#fff"/><path d="M179.3 593.8 L177.6 594.8 A9.1 5.2 -118.5 0 0 186.2 610.7 L188 609.7 A9.1 5.2 -118.5 0 0 179.3 593.8Z" fill="#fff"/><ellipse cx="181.9" cy="602.7" rx="9.1" ry="5.2" transform="rotate(-118.5 181.9 602.7)" fill="#fff"/><path d="M176.8 593.3 L175.5 594 A10.8 6.2 -118.5 0 0 185.7 612.9 L187.1 612.2 A10.8 6.2 -118.5 0 0 176.8 593.3Z" fill="#fff"/><ellipse cx="180.6" cy="603.4" rx="10.8" ry="6.2" transform="rotate(-118.5 180.6 603.4)" fill="#fff"/><path d="M175.9 594.8 L162.3 602.2 A9.8 5.7 -118.5 0 0 171.6 619.4 L185.3 612.1 A9.8 5.7 -118.5 0 0 175.9 594.8Z" fill="#fff"/><path d="M187.6 607.3 L174 614.7 M187.5 608.7 L173.9 616.1 M187.2 609.9 L173.5 617.3 M186.6 610.9 L173 618.3 M177.5 594.6 L163.8 602 M178.7 594.7 L165 602.1 M179.9 595.1 L166.3 602.5 M181.2 595.8 L167.6 603.2 M182.5 596.8 L168.9 604.2 M183.7 598 L170.1 605.4 M184.8 599.4 L171.2 606.8 M185.8 600.9 L172.2 608.3 M186.6 602.5 L173 609.9 M187.2 604.1 L173.5 611.5 M187.5 605.7 L173.9 613.1" fill="none" stroke-width="0.81"/><ellipse cx="167" cy="610.8" rx="9.8" ry="5.7" transform="rotate(-118.5 167 610.8)" fill="#fff"/><path d="M189.4 592.3 L194.3 595 L194.3 597 L189.4 594.3Z" fill="#fff"/><path d="M209.2 586.9 L194.3 595 L194.3 597 L209.2 588.9Z" fill="#fff"/><path d="M204.3 584.2 L189.4 592.3 L194.3 595 L209.2 586.9Z" fill="#fff"/><path d="M161.8 601.4 L156.6 604.2 A10.8 6.2 -118.5 0 0 166.8 623.2 L172.1 620.3 A10.8 6.2 -118.5 0 0 161.8 601.4Z" fill="#fff"/><ellipse cx="161.7" cy="613.7" rx="10.8" ry="6.2" transform="rotate(-118.5 161.7 613.7)" fill="#fff"/><ellipse cx="161.7" cy="613.7" rx="6.7" ry="3.9" transform="rotate(-118.5 161.7 613.7)" fill="none"/><ellipse cx="161.7" cy="613.7" rx="3" ry="1.7" transform="rotate(-118.5 161.7 613.7)" fill="none"/><path d="M176.6 608 L180.7 610.2 L180.7 618.8 L176.6 616.6Z" fill="#fff"/><path d="M188.6 605.9 L180.7 610.2 L180.7 618.8 L188.6 614.5Z" fill="#fff"/><path d="M184.5 603.7 L176.6 608 L180.7 610.2 L188.6 605.9Z" fill="#fff"/><path d="M181.6 610.7 L182.4 611.2 L182.4 617.8 L181.6 617.3Z" fill="#fff"/><path d="M188.6 607.8 L182.4 611.2 L182.4 617.8 L188.6 614.4Z" fill="#fff"/><path d="M187.7 607.3 L181.6 610.7 L182.4 611.2 L188.6 607.8Z" fill="#fff"/></g>
<g fill="#fff" stroke="#303030" stroke-width="0.9" stroke-linejoin="round" stroke-linecap="round"><path d="M391.3 471.8 L397.1 468.6 A11.9 6.8 61.5 0 0 385.7 447.8 L379.9 450.9 A11.9 6.8 61.5 0 0 391.3 471.8Z" fill="#fff"/><ellipse cx="385.6" cy="461.4" rx="11.9" ry="6.8" transform="rotate(61.5 385.6 461.4)" fill="#fff"/><ellipse cx="385.6" cy="461.4" rx="7.4" ry="4.2" transform="rotate(61.5 385.6 461.4)" fill="none"/><ellipse cx="385.6" cy="461.4" rx="3.3" ry="1.9" transform="rotate(61.5 385.6 461.4)" fill="none"/><path d="M375.8 479 L390.7 470.8 A10.8 6.2 61.5 0 0 380.5 451.9 L365.5 460 A10.8 6.2 61.5 0 0 375.8 479Z" fill="#fff"/><path d="M370.6 460.7 L385.6 452.6 M369.2 460.1 L384.2 451.9 M367.8 459.8 L382.8 451.6 M366.5 459.8 L381.5 451.7 M377.5 477.2 L392.5 469 M378.1 475.9 L393 467.8 M378.3 474.5 L393.3 466.3 M378.3 472.9 L393.3 464.7 M378.1 471.1 L393 463 M377.5 469.3 L392.5 461.2 M376.8 467.5 L391.8 459.4 M375.8 465.8 L390.8 457.7 M374.7 464.2 L389.7 456.1 M373.4 462.8 L388.4 454.7 M372 461.6 L387 453.5" fill="none" stroke-width="0.81"/><ellipse cx="370.6" cy="469.5" rx="10.8" ry="6.2" transform="rotate(61.5 370.6 469.5)" fill="#fff"/><path d="M374.8 480.7 L376.3 479.9 A11.9 6.8 61.5 0 0 365 459.1 L363.5 459.9 A11.9 6.8 61.5 0 0 374.8 480.7Z" fill="#fff"/><ellipse cx="369.2" cy="470.3" rx="11.9" ry="6.8" transform="rotate(61.5 369.2 470.3)" fill="#fff"/><path d="M372 480.1 L373.9 479 A10 5.8 61.5 0 0 364.4 461.5 L362.5 462.6 A10 5.8 61.5 0 0 372 480.1Z" fill="#fff"/><ellipse cx="367.2" cy="471.3" rx="10" ry="5.8" transform="rotate(61.5 367.2 471.3)" fill="#fff"/><path d="M346.5 481.7 L346.5 465.7 L343.5 464.1 L343.5 480.1Z" fill="#fff"/><path d="M346.5 465.7 L358.1 459.4 L355.2 457.8 L343.5 464.1Z" fill="#fff"/><path d="M346.5 481.7 L358.1 475.4 L358.1 459.4 L346.5 465.7Z" fill="#fff"/><path d="M377.2 462.7 L377.2 457.7 L368.9 453.2 L368.9 458.2Z" fill="#fff"/><path d="M377.2 457.7 L385.9 453 L377.6 448.4 L368.9 453.2Z" fill="#fff"/><path d="M377.2 462.7 L385.9 458 L385.9 453 L377.2 457.7Z" fill="#fff"/><path d="M364.3 496.5 L364.3 473.4 L345 462.9 L345 486Z" fill="#fff"/><path d="M364.3 473.4 L378.4 465.8 L359 455.3 L345 462.9Z" fill="#fff"/><path d="M367.1 471.9 L347.8 461.4 M369.9 470.4 L350.6 459.9 M372.7 468.9 L353.4 458.4 M375.5 467.3 L356.2 456.8" fill="none" stroke-width="0.72"/><path d="M364.3 496.5 L378.4 488.9 L378.4 465.8 L364.3 473.4Z" fill="#fff"/><path d="M377.2 456.6 L377.2 455.5 L370.8 452.1 L370.8 453.2Z" fill="#fff"/><path d="M377.2 455.5 L384 451.9 L377.6 448.4 L370.8 452.1Z" fill="#fff"/><path d="M377.2 456.6 L384 453 L384 451.9 L377.2 455.5Z" fill="#fff"/><path d="M363.9 497.8 L363.9 472.5 L341.7 460.5 L341.7 485.8Z" fill="#fff"/><path d="M363.9 472.5 L364.9 472 L342.7 459.9 L341.7 460.5Z" fill="#fff"/><path d="M363.9 497.8 L364.9 497.3 L364.9 472 L363.9 472.5Z" fill="#fff"/><path d="M357.2 490 L358.4 489.3 A11.6 6.7 61.5 0 0 347.3 469 L346.1 469.6 A11.6 6.7 61.5 0 0 357.2 490Z" fill="#fff"/><ellipse cx="351.7" cy="479.8" rx="11.6" ry="6.7" transform="rotate(61.5 351.7 479.8)" fill="#fff"/><path d="M355.5 486.6 L356.9 485.8 A7.8 4.5 61.5 0 0 349.5 472.1 L348 472.9 A7.8 4.5 61.5 0 0 355.5 486.6Z" fill="#fff"/><ellipse cx="351.8" cy="479.7" rx="7.8" ry="4.5" transform="rotate(61.5 351.8 479.7)" fill="#fff"/><path d="M352.5 484.5 L354 483.8 A4.6 2.6 61.5 0 0 349.6 475.7 L348.1 476.5 A4.6 2.6 61.5 0 0 352.5 484.5Z" fill="#fff"/><ellipse cx="350.3" cy="480.5" rx="4.6" ry="2.6" transform="rotate(61.5 350.3 480.5)" fill="#fff"/><path d="M346.1 485.4 L351.4 482.5 A2.3 1.3 61.5 0 0 349.2 478.5 L343.9 481.4 A2.3 1.3 61.5 0 0 346.1 485.4Z" fill="#fff"/><ellipse cx="345" cy="483.4" rx="2.3" ry="1.3" transform="rotate(61.5 345 483.4)" fill="#fff"/><path d="M358.5 501.8 L358.5 476.5 L357.6 476 L357.6 501.3Z" fill="#fff"/><path d="M358.5 476.5 L364.9 473.1 L363.9 472.5 L357.6 476Z" fill="#fff"/><path d="M358.5 501.8 L364.9 498.4 L364.9 473.1 L358.5 476.5Z" fill="#fff"/></g><g fill="#fff" stroke="#303030" stroke-width="0.9" stroke-linejoin="round" stroke-linecap="round"><path d="M519.8 479 L519.8 486 A10.8 6.2 180 0 0 541.4 486 L541.4 479 A10.8 6.2 180 0 0 519.8 479Z" fill="#fff"/><ellipse cx="530.6" cy="479" rx="10.8" ry="6.2" transform="rotate(180 530.6 479)" fill="#fff"/><ellipse cx="530.6" cy="479" rx="6.7" ry="3.9" transform="rotate(180 530.6 479)" fill="none"/><ellipse cx="530.6" cy="479" rx="3" ry="1.7" transform="rotate(180 530.6 479)" fill="none"/><path d="M520.8 461.5 L520.8 479 A9.8 5.7 180 0 0 540.4 479 L540.4 461.5 A9.8 5.7 180 0 0 520.8 461.5Z" fill="#fff"/><path d="M537.6 465.3 L537.6 482.8 M538.8 464.6 L538.8 482.1 M539.7 463.7 L539.7 481.2 M540.3 462.7 L540.3 480.2 M521.2 463.2 L521.2 480.7 M521.9 464.1 L521.9 481.6 M523 464.9 L523 482.4 M524.2 465.7 L524.2 483.2 M525.8 466.2 L525.8 483.7 M527.4 466.6 L527.4 484.1 M529.2 466.8 L529.2 484.3 M531.1 466.9 L531.1 484.4 M532.9 466.8 L532.9 484.3 M534.6 466.4 L534.6 483.9 M536.2 466 L536.2 483.5" fill="none" stroke-width="0.81"/><ellipse cx="530.6" cy="461.5" rx="9.8" ry="5.7" transform="rotate(180 530.6 461.5)" fill="#fff"/><path d="M519.8 460 L519.8 461.5 A10.8 6.2 180 0 0 541.4 461.5 L541.4 460 A10.8 6.2 180 0 0 519.8 460Z" fill="#fff"/><ellipse cx="530.6" cy="460" rx="10.8" ry="6.2" transform="rotate(180 530.6 460)" fill="#fff"/><path d="M521.5 458 L521.5 460 A9.1 5.2 180 0 0 539.7 460 L539.7 458 A9.1 5.2 180 0 0 521.5 458Z" fill="#fff"/><ellipse cx="530.6" cy="458" rx="9.1" ry="5.2" transform="rotate(180 530.6 458)" fill="#fff"/><path d="M531.7 435.5 L544.5 442.4 L547.1 441 L534.3 434Z" fill="#fff"/><path d="M544.5 442.4 L544.5 456.4 L547.1 455 L547.1 441Z" fill="#fff"/><path d="M531.7 435.5 L531.7 449.5 L544.5 456.4 L544.5 442.4Z" fill="#fff"/><path d="M533 469.4 L537 471.6 L544.6 467.5 L540.5 465.3Z" fill="#fff"/><path d="M537 471.6 L537 480.6 L544.6 476.5 L544.6 467.5Z" fill="#fff"/><path d="M533 469.4 L533 478.4 L537 480.6 L537 471.6Z" fill="#fff"/><path d="M537.9 472.1 L538.8 472.6 L544.6 469.4 L543.7 469Z" fill="#fff"/><path d="M538.8 472.6 L538.8 479.6 L544.6 476.4 L544.6 469.4Z" fill="#fff"/><path d="M537.9 472.1 L537.9 479.1 L538.8 479.6 L538.8 472.6Z" fill="#fff"/><path d="M511.3 442 L529.7 452 L547.3 442.5 L528.8 432.4Z" fill="#fff"/><path d="M529.7 452 L529.7 468.5 L547.3 459 L547.3 442.5Z" fill="#fff"/><path d="M529.7 455.3 L547.3 445.8 M529.7 458.6 L547.3 449.1 M529.7 461.9 L547.3 452.4 M529.7 465.2 L547.3 455.7" fill="none" stroke-width="0.72"/><path d="M511.3 442 L511.3 458.5 L529.7 468.5 L529.7 452Z" fill="#fff"/><path d="M510.4 441.1 L530.6 452.1 L550.8 441.1 L530.6 430.1Z" fill="#fff"/><path d="M530.6 452.1 L530.6 453.1 L550.8 442.1 L550.8 441.1Z" fill="#fff"/><path d="M510.4 441.1 L510.4 442.1 L530.6 453.1 L530.6 452.1Z" fill="#fff"/><path d="M520.1 439.9 L520.1 441.1 A10.5 6.1 180 0 0 541.1 441.1 L541.1 439.9 A10.5 6.1 180 0 0 520.1 439.9Z" fill="#fff"/><ellipse cx="530.6" cy="439.9" rx="10.5" ry="6.1" transform="rotate(180 530.6 439.9)" fill="#fff"/><path d="M523.5 440 L523.5 441.5 A7.1 4.1 180 0 0 537.7 441.5 L537.7 440 A7.1 4.1 180 0 0 523.5 440Z" fill="#fff"/><ellipse cx="530.6" cy="440" rx="7.1" ry="4.1" transform="rotate(180 530.6 440)" fill="#fff"/><path d="M526.4 438.5 L526.4 440 A4.2 2.4 180 0 0 534.8 440 L534.8 438.5 A4.2 2.4 180 0 0 526.4 438.5Z" fill="#fff"/><ellipse cx="530.6" cy="438.5" rx="4.2" ry="2.4" transform="rotate(180 530.6 438.5)" fill="#fff"/><path d="M528.5 432 L528.5 438.5 A2.1 1.2 180 0 0 532.7 438.5 L532.7 432 A2.1 1.2 180 0 0 528.5 432Z" fill="#fff"/><ellipse cx="530.6" cy="432" rx="2.1" ry="1.2" transform="rotate(180 530.6 432)" fill="#fff"/><path d="M509.5 435 L529.7 446 L530.6 445.5 L510.4 434.5Z" fill="#fff"/><path d="M529.7 446 L529.7 452.6 L530.6 452.1 L530.6 445.5Z" fill="#fff"/><path d="M509.5 435 L509.5 441.6 L529.7 452.6 L529.7 446Z" fill="#fff"/></g><path d="M358.4 460.5 L414.5 426.2 L414.5 488.0 L358.4 522.4Z" fill="none" stroke="#555" stroke-width="0.95" stroke-linejoin="round"/><path d="M491.8 424.8 L549.0 455.2 L549.0 519.7 L491.8 489.3Z" fill="none" stroke="#555" stroke-width="0.95" stroke-linejoin="round"/><path d="M397.4 480.8 L453.6 447.6 L511.4 479.8 L511.4 541.6 L455.2 574.8 L397.4 542.6Z" fill="#fff" stroke="#555" stroke-width="0.95" stroke-linejoin="round"/><path d="M397.4 480.8 L455.2 513.0 L511.4 479.8" fill="none" stroke="#555" stroke-width="0.95" stroke-linejoin="round"/><path d="M455.2 513.0 L455.2 574.8" fill="none" stroke="#555" stroke-width="0.95" stroke-linejoin="round"/><path d="M435.1 568.0 L399.4 587.3 L455.0 616.8 L511.2 586.2 L482.3 569.4" fill="none" stroke="#555" stroke-width="0.95" stroke-linejoin="round"/><g fill="#fff" stroke="#303030" stroke-width="0.9" stroke-linejoin="round" stroke-linecap="round"><path d="M470.1 471.1 L475.3 468.3 A10.8 6.2 61.5 0 0 465 449.3 L459.8 452.2 A10.8 6.2 61.5 0 0 470.1 471.1Z" fill="#fff"/><ellipse cx="464.9" cy="461.7" rx="10.8" ry="6.2" transform="rotate(61.5 464.9 461.7)" fill="#fff"/><ellipse cx="464.9" cy="461.7" rx="6.7" ry="3.9" transform="rotate(61.5 464.9 461.7)" fill="none"/><ellipse cx="464.9" cy="461.7" rx="3" ry="1.7" transform="rotate(61.5 464.9 461.7)" fill="none"/><path d="M456 477.7 L469.6 470.3 A9.8 5.7 61.5 0 0 460.2 453 L446.6 460.4 A9.8 5.7 61.5 0 0 456 477.7Z" fill="#fff"/><path d="M458.3 472.9 L471.9 465.5 M458.2 471.3 L471.8 463.9 M457.8 469.7 L471.5 462.3 M457.3 468.1 L470.9 460.7 M456.5 466.5 L470.1 459.1 M455.5 465 L469.1 457.6 M454.4 463.6 L468 456.2 M453.2 462.4 L466.8 455 M451.9 461.4 L465.6 454 M450.6 460.7 L464.3 453.3 M449.4 460.3 L463 452.9 M448.2 460.2 L461.8 452.8 M457.3 476.5 L470.9 469.1 M457.8 475.5 L471.5 468.1 M458.2 474.3 L471.8 466.9" fill="none" stroke-width="0.81"/><ellipse cx="451.3" cy="469.1" rx="9.8" ry="5.7" transform="rotate(61.5 451.3 469.1)" fill="#fff"/><path d="M455.1 479.2 L456.4 478.5 A10.8 6.2 61.5 0 0 446.1 459.6 L444.8 460.3 A10.8 6.2 61.5 0 0 455.1 479.2Z" fill="#fff"/><ellipse cx="450" cy="469.8" rx="10.8" ry="6.2" transform="rotate(61.5 450 469.8)" fill="#fff"/><path d="M452.5 478.7 L454.3 477.7 A9.1 5.2 61.5 0 0 445.6 461.8 L443.9 462.8 A9.1 5.2 61.5 0 0 452.5 478.7Z" fill="#fff"/><ellipse cx="448.2" cy="470.7" rx="9.1" ry="5.2" transform="rotate(61.5 448.2 470.7)" fill="#fff"/><path d="M459.6 475.5 L463.7 477.7 L463.7 469.1 L459.6 466.9Z" fill="#fff"/><path d="M463.7 477.7 L471.6 473.4 L471.6 464.8 L463.7 469.1Z" fill="#fff"/><path d="M459.6 466.9 L467.5 462.6 L471.6 464.8 L463.7 469.1Z" fill="#fff"/><path d="M426.2 484.1 L444.7 494.2 L444.7 474.2 L426.2 464.1Z" fill="#fff"/><path d="M444.7 494.2 L457.4 487.2 L457.4 467.2 L444.7 474.2Z" fill="#fff"/><path d="M447.2 492.8 L447.2 472.8 M449.8 491.4 L449.8 471.4 M452.3 490 L452.3 470 M454.9 488.6 L454.9 468.6" fill="none" stroke-width="0.72"/><path d="M426.2 464.1 L439 457.2 L457.4 467.2 L444.7 474.2Z" fill="#fff"/><path d="M419.2 488 L439.4 499 L439.4 498 L419.2 487Z" fill="#fff"/><path d="M439.4 499 L445.2 495.8 L445.2 494.8 L439.4 498Z" fill="#fff"/><path d="M419.2 487 L425 483.8 L445.2 494.8 L439.4 498Z" fill="#fff"/><path d="M464.6 476.2 L465.4 476.7 L465.4 470.1 L464.6 469.6Z" fill="#fff"/><path d="M465.4 476.7 L471.6 473.4 L471.6 466.8 L465.4 470.1Z" fill="#fff"/><path d="M464.6 469.6 L470.7 466.3 L471.6 466.8 L465.4 470.1Z" fill="#fff"/><path d="M425 483.8 L445.2 494.8 L445.2 471.8 L425 460.8Z" fill="#fff"/><path d="M445.2 494.8 L446.1 494.3 L446.1 471.3 L445.2 471.8Z" fill="#fff"/><path d="M425 460.8 L425.9 460.4 L446.1 471.3 L445.2 471.8Z" fill="#fff"/><path d="M439.1 487.7 L440.1 487.1 A10.5 6.1 61.5 0 0 430.1 468.6 L429 469.2 A10.5 6.1 61.5 0 0 439.1 487.7Z" fill="#fff"/><ellipse cx="434.1" cy="478.4" rx="10.5" ry="6.1" transform="rotate(61.5 434.1 478.4)" fill="#fff"/><path d="M437.5 484.6 L438.9 483.9 A7.1 4.1 61.5 0 0 432.1 471.4 L430.8 472.1 A7.1 4.1 61.5 0 0 437.5 484.6Z" fill="#fff"/><ellipse cx="434.2" cy="478.4" rx="7.1" ry="4.1" transform="rotate(61.5 434.2 478.4)" fill="#fff"/><path d="M434.8 482.7 L436.1 482 A4.2 2.4 61.5 0 0 432.2 474.7 L430.8 475.4 A4.2 2.4 61.5 0 0 434.8 482.7Z" fill="#fff"/><ellipse cx="432.8" cy="479.1" rx="4.2" ry="2.4" transform="rotate(61.5 432.8 479.1)" fill="#fff"/><path d="M430.4 464.9 L443.2 471.9 L443.2 468.9 L430.4 461.9Z" fill="#fff"/><path d="M443.2 471.9 L453.7 466.2 L453.7 463.2 L443.2 468.9Z" fill="#fff"/><path d="M430.4 461.9 L440.9 456.2 L453.7 463.2 L443.2 468.9Z" fill="#fff"/><path d="M432.5 460.8 L445.3 467.8 M434.6 459.7 L447.4 466.6 M436.7 458.5 L449.5 465.5 M438.8 457.4 L451.6 464.3" fill="none" stroke-width="0.72"/><path d="M429 483.5 L433.8 480.9 A2.1 1.2 61.5 0 0 431.8 477.2 L427 479.9 A2.1 1.2 61.5 0 0 429 483.5Z" fill="#fff"/><ellipse cx="428" cy="481.7" rx="2.1" ry="1.2" transform="rotate(61.5 428 481.7)" fill="#fff"/></g><g fill="#fff" stroke="#303030" stroke-width="0.9" stroke-linejoin="round" stroke-linecap="round"><path d="M415.6 542.4 L435.8 553.4 L434.9 553.9 L414.7 542.9Z" fill="#fff"/><path d="M435.8 560 L435.8 553.4 L434.9 553.9 L434.9 560.5Z" fill="#fff"/><path d="M414.7 549.5 L414.7 542.9 L434.9 553.9 L434.9 560.5Z" fill="#fff"/><path d="M416.8 566 L416.8 556.5 A2.1 1.2 0 0 0 412.6 556.5 L412.6 566 A2.1 1.2 0 0 0 416.8 566Z" fill="#fff"/><ellipse cx="414.7" cy="556.5" rx="2.1" ry="1.2" transform="rotate(0 414.7 556.5)" fill="#fff"/><path d="M425.2 555.1 L425.2 553.9 A10.5 6.1 0 0 0 404.2 553.9 L404.2 555.1 A10.5 6.1 0 0 0 425.2 555.1Z" fill="#fff"/><ellipse cx="414.7" cy="553.9" rx="10.5" ry="6.1" transform="rotate(0 414.7 553.9)" fill="#fff"/><path d="M418.9 556.5 L418.9 555 A4.2 2.4 0 0 0 410.5 555 L410.5 556.5 A4.2 2.4 0 0 0 418.9 556.5Z" fill="#fff"/><ellipse cx="414.7" cy="555" rx="4.2" ry="2.4" transform="rotate(0 414.7 555)" fill="#fff"/><path d="M414.7 541.9 L434.9 552.9 L414.7 563.9 L394.5 552.9Z" fill="#fff"/><path d="M434.9 553.9 L434.9 552.9 L414.7 563.9 L414.7 564.9Z" fill="#fff"/><path d="M394.5 553.9 L394.5 552.9 L414.7 563.9 L414.7 564.9Z" fill="#fff"/><path d="M421.8 555 L421.8 553.5 A7.1 4.1 0 0 0 407.6 553.5 L407.6 555 A7.1 4.1 0 0 0 421.8 555Z" fill="#fff"/><ellipse cx="414.7" cy="553.5" rx="7.1" ry="4.1" transform="rotate(0 414.7 553.5)" fill="#fff"/><path d="M415.1 533.2 L431.8 542.3 L416.9 550.4 L400.2 541.3Z" fill="#fff"/><path d="M431.8 553.3 L431.8 542.3 L416.9 550.4 L416.9 561.4Z" fill="#fff"/><path d="M431.8 551.1 L416.9 559.2 M431.8 548.9 L416.9 557 M431.8 546.7 L416.9 554.8 M431.8 544.5 L416.9 552.6" fill="none" stroke-width="0.72"/><path d="M400.2 552.3 L400.2 541.3 L416.9 550.4 L416.9 561.4Z" fill="#fff"/><path d="M423.8 542.5 L423.8 540.5 A9.1 5.2 0 0 0 405.6 540.5 L405.6 542.5 A9.1 5.2 0 0 0 423.8 542.5Z" fill="#fff"/><ellipse cx="414.7" cy="540.5" rx="9.1" ry="5.2" transform="rotate(0 414.7 540.5)" fill="#fff"/><path d="M425.5 540.5 L425.5 539 A10.8 6.2 0 0 0 403.9 539 L403.9 540.5 A10.8 6.2 0 0 0 425.5 540.5Z" fill="#fff"/><ellipse cx="414.7" cy="539" rx="10.8" ry="6.2" transform="rotate(0 414.7 539)" fill="#fff"/><path d="M403 543.8 L414.1 549.8 L411.4 551.3 L400.4 545.3Z" fill="#fff"/><path d="M414.1 558.3 L414.1 549.8 L411.4 551.3 L411.4 559.8Z" fill="#fff"/><path d="M400.4 553.8 L400.4 545.3 L411.4 551.3 L411.4 559.8Z" fill="#fff"/><path d="M400.4 552.1 L411.4 558.1 M400.4 550.4 L411.4 556.4 M400.4 548.7 L411.4 554.7 M400.4 547 L411.4 553" fill="none" stroke-width="0.72"/><path d="M424.5 539 L424.5 523.5 A9.8 5.7 0 0 0 404.9 523.5 L404.9 539 A9.8 5.7 0 0 0 424.5 539Z" fill="#fff"/><path d="M421.7 542.8 L421.7 527.3 M420.3 543.5 L420.3 528 M418.7 543.9 L418.7 528.4 M417 544.3 L417 528.8 M415.2 544.4 L415.2 528.9 M413.3 544.3 L413.3 528.8 M411.5 544.1 L411.5 528.6 M409.9 543.7 L409.9 528.2 M408.3 543.2 L408.3 527.7 M407.1 542.4 L407.1 526.9 M406 541.6 L406 526.1 M405.3 540.7 L405.3 525.2 M424.4 540.2 L424.4 524.7 M423.8 541.2 L423.8 525.7 M422.9 542.1 L422.9 526.6" fill="none" stroke-width="0.81"/><ellipse cx="414.7" cy="523.5" rx="9.8" ry="5.7" transform="rotate(0 414.7 523.5)" fill="#fff"/><path d="M425.5 523.5 L425.5 516.5 A10.8 6.2 0 0 0 403.9 516.5 L403.9 523.5 A10.8 6.2 0 0 0 425.5 523.5Z" fill="#fff"/><ellipse cx="414.7" cy="516.5" rx="10.8" ry="6.2" transform="rotate(0 414.7 516.5)" fill="#fff"/><ellipse cx="414.7" cy="516.5" rx="6.7" ry="3.9" transform="rotate(0 414.7 516.5)" fill="none"/><ellipse cx="414.7" cy="516.5" rx="3" ry="1.7" transform="rotate(0 414.7 516.5)" fill="none"/><path d="M424.6 528.8 L428.7 531 L421.1 535.1 L417.1 532.9Z" fill="#fff"/><path d="M428.7 540 L428.7 531 L421.1 535.1 L421.1 544.1Z" fill="#fff"/><path d="M417.1 541.9 L417.1 532.9 L421.1 535.1 L421.1 544.1Z" fill="#fff"/><path d="M427.8 532.5 L428.7 532.9 L422.9 536.1 L422 535.6Z" fill="#fff"/><path d="M428.7 539.9 L428.7 532.9 L422.9 536.1 L422.9 543.1Z" fill="#fff"/><path d="M422 542.6 L422 535.6 L422.9 536.1 L422.9 543.1Z" fill="#fff"/></g><g fill="#fff" stroke="#303030" stroke-width="0.9" stroke-linejoin="round" stroke-linecap="round"><path d="M509.4 538.2 L514.6 535.4 A10.8 6.2 61.5 0 0 504.3 516.4 L499.1 519.3 A10.8 6.2 61.5 0 0 509.4 538.2Z" fill="#fff"/><ellipse cx="504.2" cy="528.8" rx="10.8" ry="6.2" transform="rotate(61.5 504.2 528.8)" fill="#fff"/><ellipse cx="504.2" cy="528.8" rx="6.7" ry="3.9" transform="rotate(61.5 504.2 528.8)" fill="none"/><ellipse cx="504.2" cy="528.8" rx="3" ry="1.7" transform="rotate(61.5 504.2 528.8)" fill="none"/><path d="M490.8 544.5 L490.8 545.5 L496.6 548.7 L496.6 547.7Z" fill="#fff"/><path d="M490.8 544.5 L496.9 541.2 L502.7 544.3 L496.6 547.7Z" fill="#fff"/><path d="M496.6 547.7 L502.7 544.3 L502.7 545.3 L496.6 548.7Z" fill="#fff"/><path d="M489 539.9 L489 544.5 L496.6 548.6 L496.6 544Z" fill="#fff"/><path d="M489 539.9 L496.9 535.6 L504.5 539.7 L496.6 544Z" fill="#fff"/><path d="M496.6 544 L504.5 539.7 L504.5 544.3 L496.6 548.6Z" fill="#fff"/><path d="M495.3 544.8 L508.9 537.4 A9.8 5.7 61.5 0 0 499.5 520.1 L485.9 527.5 A9.8 5.7 61.5 0 0 495.3 544.8Z" fill="#fff"/><path d="M496.9 543.1 L510.5 535.7 M497.4 542 L511 534.6 M497.6 540.7 L511.2 533.3 M497.6 539.2 L511.2 531.8 M497.4 537.6 L511 530.2 M496.9 536 L510.5 528.6 M496.2 534.4 L509.8 527 M495.3 532.8 L508.9 525.4 M494.3 531.4 L507.9 524 M493.1 530.1 L506.8 522.7 M491.9 529 L505.5 521.6 M490.6 528.2 L504.2 520.8 M489.3 527.6 L502.9 520.2 M488 527.3 L501.7 519.9 M486.9 527.3 L500.5 519.9" fill="none" stroke-width="0.81"/><ellipse cx="490.6" cy="536.2" rx="9.8" ry="5.7" transform="rotate(61.5 490.6 536.2)" fill="#fff"/><path d="M494.4 546.3 L495.7 545.6 A10.8 6.2 61.5 0 0 485.4 526.7 L484.1 527.4 A10.8 6.2 61.5 0 0 494.4 546.3Z" fill="#fff"/><ellipse cx="489.3" cy="536.9" rx="10.8" ry="6.2" transform="rotate(61.5 489.3 536.9)" fill="#fff"/><path d="M491.8 545.8 L493.6 544.8 A9.1 5.2 61.5 0 0 484.9 528.9 L483.2 529.9 A9.1 5.2 61.5 0 0 491.8 545.8Z" fill="#fff"/><ellipse cx="487.5" cy="537.8" rx="9.1" ry="5.2" transform="rotate(61.5 487.5 537.8)" fill="#fff"/><path d="M464.7 528.8 L464.7 549.8 L482.2 559.3 L482.2 538.3Z" fill="#fff"/><path d="M464.7 528.8 L477.4 521.8 L495 531.4 L482.2 538.3Z" fill="#fff"/><path d="M467.2 527.4 L484.8 536.9 M469.8 526 L487.3 535.5 M472.3 524.6 L489.9 534.1 M474.9 523.2 L492.4 532.8" fill="none" stroke-width="0.72"/><path d="M482.2 538.3 L495 531.4 L495 552.4 L482.2 559.3Z" fill="#fff"/><path d="M457.6 530.6 L457.6 553.6 L458.5 554.1 L458.5 531.1Z" fill="#fff"/><path d="M457.6 530.6 L463.4 527.5 L464.3 527.9 L458.5 531.1Z" fill="#fff"/><path d="M458.5 531.1 L464.3 527.9 L464.3 550.9 L458.5 554.1Z" fill="#fff"/><path d="M464.3 527.9 L464.3 550.9 L484.5 561.9 L484.5 538.9Z" fill="#fff"/><path d="M464.3 527.9 L465.2 527.5 L485.4 538.4 L484.5 538.9Z" fill="#fff"/><path d="M484.5 538.9 L485.4 538.4 L485.4 561.4 L484.5 561.9Z" fill="#fff"/><path d="M478.4 554.8 L479.4 554.2 A10.5 6.1 61.5 0 0 469.4 535.7 L468.3 536.3 A10.5 6.1 61.5 0 0 478.4 554.8Z" fill="#fff"/><ellipse cx="473.4" cy="545.5" rx="10.5" ry="6.1" transform="rotate(61.5 473.4 545.5)" fill="#fff"/><path d="M476.8 551.7 L478.2 551 A7.1 4.1 61.5 0 0 471.4 538.5 L470.1 539.2 A7.1 4.1 61.5 0 0 476.8 551.7Z" fill="#fff"/><ellipse cx="473.5" cy="545.5" rx="7.1" ry="4.1" transform="rotate(61.5 473.5 545.5)" fill="#fff"/><path d="M474.1 549.8 L475.4 549.1 A4.2 2.4 61.5 0 0 471.5 541.8 L470.1 542.5 A4.2 2.4 61.5 0 0 474.1 549.8Z" fill="#fff"/><ellipse cx="472.1" cy="546.2" rx="4.2" ry="2.4" transform="rotate(61.5 472.1 546.2)" fill="#fff"/><path d="M483.6 540.8 L483.6 555.4 L486.2 556.8 L486.2 542.2Z" fill="#fff"/><path d="M483.6 540.8 L494.1 535.1 L496.7 536.5 L486.2 542.2Z" fill="#fff"/><path d="M486.2 542.2 L496.7 536.5 L496.7 551.1 L486.2 556.8Z" fill="#fff"/><path d="M488.3 541.1 L488.3 555.7 M490.4 539.9 L490.4 554.5 M492.5 538.8 L492.5 553.4 M494.6 537.6 L494.6 552.2" fill="none" stroke-width="0.72"/><path d="M468.3 550.6 L473.1 548 A2.1 1.2 61.5 0 0 471.1 544.3 L466.3 547 A2.1 1.2 61.5 0 0 468.3 550.6Z" fill="#fff"/><ellipse cx="467.3" cy="548.8" rx="2.1" ry="1.2" transform="rotate(61.5 467.3 548.8)" fill="#fff"/></g><g fill="#fff" stroke="#303030" stroke-width="0.9" stroke-linejoin="round" stroke-linecap="round"><path d="M478.4 585.6 L473.6 588.2 A2.1 1.2 -118.5 0 0 475.5 591.9 L480.4 589.2 A2.1 1.2 -118.5 0 0 478.4 585.6Z" fill="#fff"/><ellipse cx="474.5" cy="590" rx="2.1" ry="1.2" transform="rotate(-118.5 474.5 590)" fill="#fff"/><path d="M468.3 581.4 L467.2 582 A10.5 6.1 -118.5 0 0 477.3 600.5 L478.3 599.9 A10.5 6.1 -118.5 0 0 468.3 581.4Z" fill="#fff"/><ellipse cx="472.3" cy="591.3" rx="10.5" ry="6.1" transform="rotate(-118.5 472.3 591.3)" fill="#fff"/><path d="M472.6 586.4 L471.2 587.1 A4.2 2.4 -118.5 0 0 475.2 594.4 L476.5 593.7 A4.2 2.4 -118.5 0 0 472.6 586.4Z" fill="#fff"/><ellipse cx="473.2" cy="590.7" rx="4.2" ry="2.4" transform="rotate(-118.5 473.2 590.7)" fill="#fff"/><path d="M461.3 574.8 L481.5 585.7 L481.5 608.7 L461.3 597.8Z" fill="#fff"/><path d="M482.4 585.2 L481.5 585.7 L481.5 608.7 L482.4 608.2Z" fill="#fff"/><path d="M462.2 574.3 L461.3 574.8 L481.5 585.7 L482.4 585.2Z" fill="#fff"/><path d="M469.8 584.5 L468.5 585.2 A7.1 4.1 -118.5 0 0 475.3 597.7 L476.6 597 A7.1 4.1 -118.5 0 0 469.8 584.5Z" fill="#fff"/><ellipse cx="471.9" cy="591.5" rx="7.1" ry="4.1" transform="rotate(-118.5 471.9 591.5)" fill="#fff"/><path d="M453.6 602.9 L466.5 609.9 L466.5 612.9 L453.6 605.9Z" fill="#fff"/><path d="M477 604.2 L466.5 609.9 L466.5 612.9 L477 607.2Z" fill="#fff"/><path d="M464.2 597.2 L453.6 602.9 L466.5 609.9 L477 604.2Z" fill="#fff"/><path d="M449.9 581.9 L468.4 591.9 L468.4 611.9 L449.9 601.9Z" fill="#fff"/><path d="M481.1 585 L468.4 591.9 L468.4 611.9 L481.1 605Z" fill="#fff"/><path d="M478.6 586.3 L478.6 606.3 M476 587.7 L476 607.7 M473.5 589.1 L473.5 609.1 M470.9 590.5 L470.9 610.5" fill="none" stroke-width="0.72"/><path d="M462.7 574.9 L449.9 581.9 L468.4 591.9 L481.1 585Z" fill="#fff"/><path d="M462.2 573.3 L482.4 584.2 L482.4 585.2 L462.2 574.3Z" fill="#fff"/><path d="M488.2 581.1 L482.4 584.2 L482.4 585.2 L488.2 582.1Z" fill="#fff"/><path d="M468 570.1 L462.2 573.3 L482.4 584.2 L488.2 581.1Z" fill="#fff"/><path d="M454.8 590.4 L453.1 591.4 A9.1 5.2 -118.5 0 0 461.7 607.3 L463.5 606.3 A9.1 5.2 -118.5 0 0 454.8 590.4Z" fill="#fff"/><ellipse cx="457.4" cy="599.3" rx="9.1" ry="5.2" transform="rotate(-118.5 457.4 599.3)" fill="#fff"/><path d="M452.3 589.9 L451 590.6 A10.8 6.2 -118.5 0 0 461.2 609.5 L462.6 608.8 A10.8 6.2 -118.5 0 0 452.3 589.9Z" fill="#fff"/><ellipse cx="456.1" cy="600" rx="10.8" ry="6.2" transform="rotate(-118.5 456.1 600)" fill="#fff"/><path d="M451.4 591.4 L437.8 598.8 A9.8 5.7 -118.5 0 0 447.1 616 L460.8 608.7 A9.8 5.7 -118.5 0 0 451.4 591.4Z" fill="#fff"/><path d="M463.1 603.9 L449.5 611.3 M463 605.3 L449.4 612.7 M462.7 606.5 L449 613.9 M462.1 607.5 L448.5 614.9 M453 591.2 L439.3 598.6 M454.2 591.3 L440.5 598.7 M455.4 591.7 L441.8 599.1 M456.7 592.4 L443.1 599.8 M458 593.4 L444.4 600.8 M459.2 594.6 L445.6 602 M460.3 596 L446.7 603.4 M461.3 597.5 L447.7 604.9 M462.1 599.1 L448.5 606.5 M462.7 600.7 L449 608.1 M463 602.3 L449.4 609.7" fill="none" stroke-width="0.81"/><ellipse cx="442.5" cy="607.4" rx="9.8" ry="5.7" transform="rotate(-118.5 442.5 607.4)" fill="#fff"/><path d="M437.3 598 L432.1 600.8 A10.8 6.2 -118.5 0 0 442.3 619.8 L447.6 616.9 A10.8 6.2 -118.5 0 0 437.3 598Z" fill="#fff"/><ellipse cx="437.2" cy="610.3" rx="10.8" ry="6.2" transform="rotate(-118.5 437.2 610.3)" fill="#fff"/><ellipse cx="437.2" cy="610.3" rx="6.7" ry="3.9" transform="rotate(-118.5 437.2 610.3)" fill="none"/><ellipse cx="437.2" cy="610.3" rx="3" ry="1.7" transform="rotate(-118.5 437.2 610.3)" fill="none"/><path d="M452.1 604.6 L456.2 606.8 L456.2 615.4 L452.1 613.2Z" fill="#fff"/><path d="M464.1 602.5 L456.2 606.8 L456.2 615.4 L464.1 611.1Z" fill="#fff"/><path d="M460 600.3 L452.1 604.6 L456.2 606.8 L464.1 602.5Z" fill="#fff"/><path d="M457.1 607.3 L457.9 607.8 L457.9 614.4 L457.1 613.9Z" fill="#fff"/><path d="M464.1 604.4 L457.9 607.8 L457.9 614.4 L464.1 611Z" fill="#fff"/><path d="M463.2 603.9 L457.1 607.3 L457.9 607.8 L464.1 604.4Z" fill="#fff"/></g>
</svg>
<div id="txt">
<span class="t h1" style="left:44.8px;top:81.7px;height:14.9px;font-size:13px;line-height:14.9px">型号与标记</span>
<span class="t h1" style="left:106.5px;top:81.7px;width:13.9px;height:14.9px;font-size:13px;line-height:14.9px">：</span>
<span class="t h2" style="left:64.3px;top:397.2px;height:14.9px;font-size:13px;line-height:14.9px">安装形式</span>
<span class="t h2" style="left:113.9px;top:397.2px;width:14.2px;height:14.9px;font-size:13px;line-height:14.9px">：</span>
<span class="t h2" style="left:64.3px;top:642.2px;height:14.9px;font-size:13px;line-height:14.9px">电机接线盒位置</span>
<span class="t h2" style="left:150.4px;top:642.2px;width:14.2px;height:14.9px;font-size:13px;line-height:14.9px">：</span>
<span class="l" style="left:-0.38px;width:200px;text-align:center;top:126.10px;font-size:9.4px;line-height:11.28px;color:#111;-webkit-text-stroke:0.2px #111;">ZR</span>
<span class="l" style="left:109.00px;width:200px;text-align:center;top:126.10px;font-size:9.4px;line-height:11.28px;color:#111;-webkit-text-stroke:0.2px #111;">37</span>
<span class="l" style="left:167.12px;width:200px;text-align:center;top:126.10px;font-size:9.4px;line-height:11.28px;color:#111;-webkit-text-stroke:0.2px #111;">Y</span>
<span class="l" style="left:233.00px;width:200px;text-align:center;top:126.10px;font-size:9.4px;line-height:11.28px;color:#111;-webkit-text-stroke:0.2px #111;">0.75-4P</span>
<span class="l" style="left:304.25px;width:200px;text-align:center;top:126.10px;font-size:9.4px;line-height:11.28px;color:#111;-webkit-text-stroke:0.2px #111;">37.30</span>
<span class="l" style="left:372.75px;width:200px;text-align:center;top:126.10px;font-size:9.4px;line-height:11.28px;color:#111;-webkit-text-stroke:0.2px #111;">M1</span>
<span class="l" style="left:433.75px;width:200px;text-align:center;top:126.10px;font-size:9.4px;line-height:11.28px;color:#111;-webkit-text-stroke:0.2px #111;">I</span>
<span class="t" style="left:69.2px;top:200.8px;height:10.7px;font-size:9.3px;line-height:10.7px">斜齿轮减速机</span>
<span class="t" style="left:197.3px;top:162.5px;height:10.7px;font-size:9.3px;line-height:10.7px">机型号</span>
<span class="t" style="left:179.5px;top:174.3px;height:10.7px;font-size:9.3px;line-height:10.7px">(见选型参照表)</span>
<span class="t" style="left:310.2px;top:160.1px;height:10.7px;font-size:9.3px;line-height:10.7px">功率，极数</span>
<span class="t" style="left:301.7px;top:171.9px;height:10.7px;font-size:9.3px;line-height:10.7px">(见选型参照表)</span>
<span class="t" style="left:389.4px;top:220.6px;height:10.7px;font-size:9.3px;line-height:10.7px">传动比</span>
<span class="t" style="left:371.6px;top:232.4px;height:10.7px;font-size:9.3px;line-height:10.7px">(见选型参照表)</span>
<span class="t" style="left:457.6px;top:160.8px;height:10.7px;font-size:9.3px;line-height:10.7px">安装形式</span>
<span class="t" style="left:508.9px;top:238.9px;height:10.7px;font-size:9.3px;line-height:10.7px">接线盒位置</span>
<span class="t" style="left:96.2px;top:261.4px;height:10.7px;font-size:9.3px;line-height:10.7px">结构形式:</span>
<span class="t" style="left:96.2px;top:273.1px;height:10.7px;font-size:9.3px;line-height:10.7px">普通轴伸式(省略)</span>
<span class="t" style="left:96.2px;top:284.9px;height:10.7px;font-size:9.3px;line-height:10.7px">轴伸法兰式</span>
<span class="l" style="left:184.25px;top:284.32px;font-size:9.0px;line-height:10.80px;color:#111;-webkit-text-stroke:0.2px #111;transform:scaleX(0.9);transform-origin:0 50%;">F</span>
<span class="t" style="left:96.2px;top:296.6px;height:10.7px;font-size:9.3px;line-height:10.7px">普通轴伸式，轴输入</span>
<span class="l" style="left:184.25px;top:296.04px;font-size:9.0px;line-height:10.80px;color:#111;-webkit-text-stroke:0.2px #111;transform:scaleX(0.9);transform-origin:0 50%;">S</span>
<span class="t" style="left:96.2px;top:308.3px;height:10.7px;font-size:9.3px;line-height:10.7px">轴伸法兰式，轴输入</span>
<span class="l" style="left:184.25px;top:307.76px;font-size:9.0px;line-height:10.80px;color:#111;-webkit-text-stroke:0.2px #111;transform:scaleX(0.9);transform-origin:0 50%;">FS</span>
<span class="t" style="left:237.5px;top:206.9px;height:10.7px;font-size:9.3px;line-height:10.7px;letter-spacing:-0.2px">电机代号:</span>
<span class="t" style="left:237.5px;top:218.2px;height:10.7px;font-size:9.3px;line-height:10.7px;letter-spacing:0.4px">普通(更新)Y(Y2)</span>
<span class="t" style="left:237.5px;top:229.4px;width:11.3px;height:10.7px;font-size:9.3px;line-height:10.7px">防</span>
<span class="t" style="left:264.7px;top:229.4px;width:11.3px;height:10.7px;font-size:9.3px;line-height:10.7px">爆</span>
<span class="l" style="left:292.50px;top:228.88px;font-size:9.0px;line-height:10.80px;color:#111;-webkit-text-stroke:0.2px #111;transform:scaleX(0.9);transform-origin:0 50%;">B</span>
<span class="t" style="left:237.5px;top:240.7px;width:11.3px;height:10.7px;font-size:9.3px;line-height:10.7px">直</span>
<span class="t" style="left:264.7px;top:240.7px;width:11.3px;height:10.7px;font-size:9.3px;line-height:10.7px">流</span>
<span class="l" style="left:292.50px;top:240.13px;font-size:9.0px;line-height:10.80px;color:#111;-webkit-text-stroke:0.2px #111;transform:scaleX(0.9);transform-origin:0 50%;">Z</span>
<span class="t" style="left:237.5px;top:251.9px;width:11.3px;height:10.7px;font-size:9.3px;line-height:10.7px">制</span>
<span class="t" style="left:264.7px;top:251.9px;width:11.3px;height:10.7px;font-size:9.3px;line-height:10.7px">动</span>
<span class="l" style="left:292.50px;top:251.38px;font-size:9.0px;line-height:10.80px;color:#111;-webkit-text-stroke:0.2px #111;transform:scaleX(0.9);transform-origin:0 50%;">E</span>
<span class="t" style="left:237.5px;top:263.2px;width:11.3px;height:10.7px;font-size:9.3px;line-height:10.7px">多</span>
<span class="t" style="left:264.7px;top:263.2px;width:11.3px;height:10.7px;font-size:9.3px;line-height:10.7px">速</span>
<span class="l" style="left:292.50px;top:262.63px;font-size:9.0px;line-height:10.80px;color:#111;-webkit-text-stroke:0.2px #111;transform:scaleX(0.9);transform-origin:0 50%;">D</span>
<span class="t" style="left:237.5px;top:274.4px;width:11.3px;height:10.7px;font-size:9.3px;line-height:10.7px">变</span>
<span class="t" style="left:264.7px;top:274.4px;width:11.3px;height:10.7px;font-size:9.3px;line-height:10.7px">频</span>
<span class="l" style="left:292.50px;top:273.88px;font-size:9.0px;line-height:10.80px;color:#111;-webkit-text-stroke:0.2px #111;transform:scaleX(0.9);transform-origin:0 50%;">V</span>
<span class="t" style="left:237.5px;top:285.7px;width:11.3px;height:10.7px;font-size:9.3px;line-height:10.7px">分</span>
<span class="t" style="left:251.1px;top:285.7px;width:11.3px;height:10.7px;font-size:9.3px;line-height:10.7px">马</span>
<span class="t" style="left:264.7px;top:285.7px;width:11.3px;height:10.7px;font-size:9.3px;line-height:10.7px">力</span>
<span class="l" style="left:292.50px;top:285.13px;font-size:9.0px;line-height:10.80px;color:#111;-webkit-text-stroke:0.2px #111;transform:scaleX(0.9);transform-origin:0 50%;">F</span>
<span class="t" style="left:237.5px;top:296.9px;width:11.3px;height:10.7px;font-size:9.3px;line-height:10.7px">增</span>
<span class="t" style="left:264.7px;top:296.9px;width:11.3px;height:10.7px;font-size:9.3px;line-height:10.7px">安</span>
<span class="l" style="left:292.50px;top:296.38px;font-size:9.0px;line-height:10.80px;color:#111;-webkit-text-stroke:0.2px #111;transform:scaleX(0.9);transform-origin:0 50%;">A</span>
<span class="t" style="left:237.5px;top:308.2px;height:10.7px;font-size:9.3px;line-height:10.7px;letter-spacing:-0.2px">电磁调动</span>
<span class="l" style="left:292.50px;top:307.63px;font-size:9.0px;line-height:10.80px;color:#111;-webkit-text-stroke:0.2px #111;transform:scaleX(0.9);transform-origin:0 50%;">C</span>
<span class="t" style="left:237.5px;top:319.4px;height:10.7px;font-size:9.3px;line-height:10.7px;letter-spacing:-0.2px">冶金起重</span>
<span class="l" style="left:292.50px;top:318.88px;font-size:9.0px;line-height:10.80px;color:#111;-webkit-text-stroke:0.2px #111;transform:scaleX(0.9);transform-origin:0 50%;">R</span>
<span class="t" style="left:237.5px;top:330.7px;height:10.7px;font-size:9.3px;line-height:10.7px;letter-spacing:-0.2px">变频制动</span>
<span class="l" style="left:292.50px;top:330.13px;font-size:9.0px;line-height:10.80px;color:#111;-webkit-text-stroke:0.2px #111;transform:scaleX(0.9);transform-origin:0 50%;">VE</span>
<span class="t" style="left:237.5px;top:341.9px;width:11.3px;height:10.7px;font-size:9.3px;line-height:10.7px">辊</span>
<span class="t" style="left:264.7px;top:341.9px;width:11.3px;height:10.7px;font-size:9.3px;line-height:10.7px">道</span>
<span class="l" style="left:292.50px;top:341.38px;font-size:9.0px;line-height:10.80px;color:#111;-webkit-text-stroke:0.2px #111;transform:scaleX(0.9);transform-origin:0 50%;">G</span>
<span class="t" style="left:237.5px;top:353.2px;height:10.7px;font-size:9.3px;line-height:10.7px;letter-spacing:-0.2px">用户自配电机</span>
<span class="l" style="left:292.50px;top:352.63px;font-size:9.0px;line-height:10.80px;color:#111;-webkit-text-stroke:0.2px #111;transform:scaleX(0.9);transform-origin:0 50%;">ZP</span>
<span class="l" style="left:210.80px;width:200px;text-align:center;top:806.15px;font-size:10.2px;line-height:12.24px;color:#1a1a1a;font-weight:bold;">175</span>
<span class="l" style="left:507.70px;top:801.69px;font-size:9.1px;line-height:10.92px;color:#222;-webkit-text-stroke:0.15px #222;">0533-4652678</span>
<span class="l" style="left:33.20px;width:200px;text-align:center;top:765.94px;font-size:12px;line-height:14.40px;color:#222;font-family:'Liberation Serif',serif;transform:scaleX(0.82);">I</span>
<span class="l" style="left:148.60px;width:200px;text-align:center;top:766.64px;font-size:12px;line-height:14.40px;color:#222;font-family:'Liberation Serif',serif;transform:scaleX(0.82);">II</span>
<span class="l" style="left:264.40px;width:200px;text-align:center;top:764.64px;font-size:12px;line-height:14.40px;color:#222;font-family:'Liberation Serif',serif;transform:scaleX(0.82);">III</span>
<span class="l" style="left:389.30px;width:200px;text-align:center;top:762.64px;font-size:12px;line-height:14.40px;color:#222;font-family:'Liberation Serif',serif;transform:scaleX(0.82);">IV</span>
<span class="l" style="left:363.40px;width:200px;text-align:center;top:323.87px;font-size:7.0px;line-height:8.40px;color:#d6d6d6;">H</span>
<span class="l" style="left:20.80px;width:200px;text-align:center;top:446.16px;font-size:10.4px;line-height:12.48px;color:#111;-webkit-text-stroke:0.3px #111;">M6</span>
<span class="l" style="left:89.50px;width:200px;text-align:center;top:485.56px;font-size:10.4px;line-height:12.48px;color:#111;-webkit-text-stroke:0.3px #111;">M1</span>
<span class="l" style="left:155.00px;width:200px;text-align:center;top:494.96px;font-size:10.4px;line-height:12.48px;color:#111;-webkit-text-stroke:0.3px #111;">M2</span>
<span class="l" style="left:59.60px;width:200px;text-align:center;top:521.96px;font-size:10.4px;line-height:12.48px;color:#111;-webkit-text-stroke:0.3px #111;">M4</span>
<span class="l" style="left:107.60px;width:200px;text-align:center;top:511.76px;font-size:10.4px;line-height:12.48px;color:#111;-webkit-text-stroke:0.3px #111;">M5</span>
<span class="l" style="left:55.50px;width:200px;text-align:center;top:585.16px;font-size:10.4px;line-height:12.48px;color:#111;-webkit-text-stroke:0.3px #111;">M3</span>
<span class="l" style="left:303.30px;width:200px;text-align:center;top:440.76px;font-size:10.4px;line-height:12.48px;color:#111;-webkit-text-stroke:0.3px #111;">M6</span>
<span class="l" style="left:372.80px;width:200px;text-align:center;top:483.56px;font-size:10.4px;line-height:12.48px;color:#111;-webkit-text-stroke:0.3px #111;">M1</span>
<span class="l" style="left:437.70px;width:200px;text-align:center;top:494.46px;font-size:10.4px;line-height:12.48px;color:#111;-webkit-text-stroke:0.3px #111;">M2</span>
<span class="l" style="left:343.80px;width:200px;text-align:center;top:520.36px;font-size:10.4px;line-height:12.48px;color:#111;-webkit-text-stroke:0.3px #111;">M4</span>
<span class="l" style="left:386.80px;width:200px;text-align:center;top:507.16px;font-size:10.4px;line-height:12.48px;color:#111;-webkit-text-stroke:0.3px #111;">M5</span>
<span class="l" style="left:336.80px;width:200px;text-align:center;top:580.36px;font-size:10.4px;line-height:12.48px;color:#111;-webkit-text-stroke:0.3px #111;">M3</span>
</div>
</body>
</html>
